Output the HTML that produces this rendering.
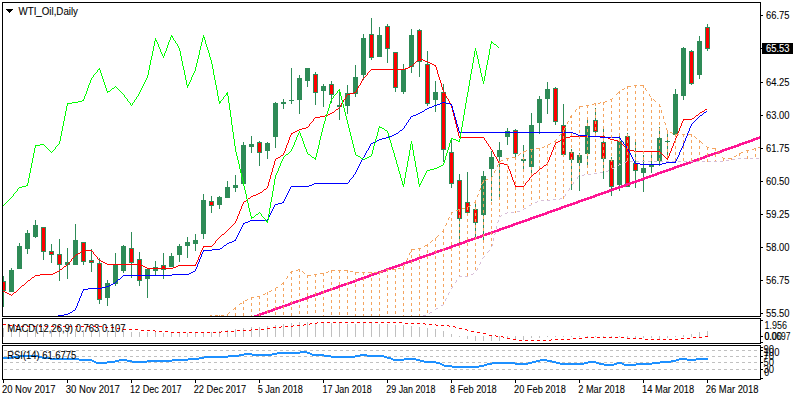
<!DOCTYPE html>
<html><head><meta charset="utf-8"><title>WTI_Oil,Daily</title>
<style>html,body{margin:0;padding:0;background:#fff;overflow:hidden}svg{display:block}</style></head>
<body>
<svg width="800" height="400" viewBox="0 0 800 400">
<rect x="0" y="0" width="800" height="400" fill="#fff"/>
<defs><clipPath id="cm"><rect x="3" y="3" width="757" height="313"/></clipPath><clipPath id="cr"><rect x="3" y="346" width="757" height="33"/></clipPath><clipPath id="cd"><rect x="3" y="319" width="757" height="24"/></clipPath></defs>
<g shape-rendering="crispEdges">
<g clip-path="url(#cm)">
<rect x="3" y="276" width="1" height="31" fill="#2E8B57"/>
<rect x="1" y="281" width="5" height="10" fill="#2E8B57"/>
<rect x="2" y="282" width="3" height="8" fill="#FF0000"/>
<rect x="11" y="268" width="1" height="24" fill="#2E8B57"/>
<rect x="9" y="270" width="5" height="22" fill="#2E8B57"/>
<rect x="19" y="243" width="1" height="26" fill="#2E8B57"/>
<rect x="17" y="246" width="5" height="23" fill="#2E8B57"/>
<rect x="27" y="230" width="1" height="24" fill="#2E8B57"/>
<rect x="25" y="233" width="5" height="16" fill="#2E8B57"/>
<rect x="35" y="220" width="1" height="18" fill="#2E8B57"/>
<rect x="33" y="225" width="5" height="12" fill="#2E8B57"/>
<rect x="43" y="227" width="1" height="33" fill="#2E8B57"/>
<rect x="41" y="227" width="5" height="25" fill="#2E8B57"/>
<rect x="42" y="228" width="3" height="23" fill="#FF0000"/>
<rect x="51" y="244" width="1" height="19" fill="#2E8B57"/>
<rect x="49" y="251" width="5" height="4" fill="#2E8B57"/>
<rect x="50" y="252" width="3" height="2" fill="#FF0000"/>
<rect x="59" y="239" width="1" height="42" fill="#2E8B57"/>
<rect x="57" y="254" width="5" height="11" fill="#2E8B57"/>
<rect x="58" y="255" width="3" height="9" fill="#FF0000"/>
<rect x="67" y="248" width="1" height="31" fill="#2E8B57"/>
<rect x="65" y="262" width="5" height="3" fill="#2E8B57"/>
<rect x="75" y="224" width="1" height="41" fill="#2E8B57"/>
<rect x="73" y="240" width="5" height="25" fill="#2E8B57"/>
<rect x="83" y="242" width="1" height="23" fill="#2E8B57"/>
<rect x="81" y="242" width="5" height="20" fill="#2E8B57"/>
<rect x="82" y="243" width="3" height="18" fill="#FF0000"/>
<rect x="91" y="249" width="1" height="23" fill="#2E8B57"/>
<rect x="89" y="260" width="5" height="3" fill="#2E8B57"/>
<rect x="90" y="261" width="3" height="1" fill="#FF0000"/>
<rect x="99" y="258" width="1" height="46" fill="#2E8B57"/>
<rect x="97" y="263" width="5" height="37" fill="#2E8B57"/>
<rect x="98" y="264" width="3" height="35" fill="#FF0000"/>
<rect x="107" y="280" width="1" height="26" fill="#2E8B57"/>
<rect x="105" y="283" width="5" height="15" fill="#2E8B57"/>
<rect x="115" y="253" width="1" height="33" fill="#2E8B57"/>
<rect x="113" y="265" width="5" height="19" fill="#2E8B57"/>
<rect x="123" y="245" width="1" height="28" fill="#2E8B57"/>
<rect x="121" y="246" width="5" height="25" fill="#2E8B57"/>
<rect x="131" y="232" width="1" height="46" fill="#2E8B57"/>
<rect x="129" y="248" width="5" height="15" fill="#2E8B57"/>
<rect x="130" y="249" width="3" height="13" fill="#FF0000"/>
<rect x="139" y="252" width="1" height="34" fill="#2E8B57"/>
<rect x="137" y="259" width="5" height="22" fill="#2E8B57"/>
<rect x="138" y="260" width="3" height="20" fill="#FF0000"/>
<rect x="147" y="269" width="1" height="29" fill="#2E8B57"/>
<rect x="145" y="269" width="5" height="10" fill="#2E8B57"/>
<rect x="155" y="261" width="1" height="14" fill="#2E8B57"/>
<rect x="153" y="267" width="5" height="4" fill="#2E8B57"/>
<rect x="163" y="253" width="1" height="26" fill="#2E8B57"/>
<rect x="161" y="265" width="5" height="5" fill="#2E8B57"/>
<rect x="162" y="266" width="3" height="3" fill="#FF0000"/>
<rect x="171" y="253" width="1" height="14" fill="#2E8B57"/>
<rect x="169" y="256" width="5" height="11" fill="#2E8B57"/>
<rect x="179" y="244" width="1" height="18" fill="#2E8B57"/>
<rect x="177" y="246" width="5" height="9" fill="#2E8B57"/>
<rect x="187" y="237" width="1" height="21" fill="#2E8B57"/>
<rect x="185" y="242" width="5" height="4" fill="#2E8B57"/>
<rect x="195" y="234" width="1" height="17" fill="#2E8B57"/>
<rect x="193" y="240" width="5" height="4" fill="#2E8B57"/>
<rect x="203" y="194" width="1" height="45" fill="#2E8B57"/>
<rect x="201" y="200" width="5" height="34" fill="#2E8B57"/>
<rect x="211" y="196" width="1" height="17" fill="#2E8B57"/>
<rect x="209" y="201" width="5" height="5" fill="#2E8B57"/>
<rect x="210" y="202" width="3" height="3" fill="#FF0000"/>
<rect x="219" y="196" width="1" height="13" fill="#2E8B57"/>
<rect x="217" y="197" width="5" height="8" fill="#2E8B57"/>
<rect x="227" y="181" width="1" height="17" fill="#2E8B57"/>
<rect x="225" y="187" width="5" height="11" fill="#2E8B57"/>
<rect x="235" y="175" width="1" height="17" fill="#2E8B57"/>
<rect x="233" y="185" width="5" height="3" fill="#2E8B57"/>
<rect x="243" y="142" width="1" height="42" fill="#2E8B57"/>
<rect x="241" y="145" width="5" height="39" fill="#2E8B57"/>
<rect x="251" y="136" width="1" height="17" fill="#2E8B57"/>
<rect x="249" y="144" width="5" height="3" fill="#2E8B57"/>
<rect x="259" y="141" width="1" height="25" fill="#2E8B57"/>
<rect x="257" y="142" width="5" height="11" fill="#2E8B57"/>
<rect x="258" y="143" width="3" height="9" fill="#FF0000"/>
<rect x="267" y="142" width="1" height="17" fill="#2E8B57"/>
<rect x="265" y="143" width="5" height="8" fill="#2E8B57"/>
<rect x="275" y="102" width="1" height="46" fill="#2E8B57"/>
<rect x="273" y="103" width="5" height="34" fill="#2E8B57"/>
<rect x="283" y="99" width="1" height="10" fill="#2E8B57"/>
<rect x="281" y="102" width="5" height="2" fill="#2E8B57"/>
<rect x="291" y="68" width="1" height="36" fill="#2E8B57"/>
<rect x="289" y="100" width="5" height="1" fill="#2E8B57"/>
<rect x="299" y="75" width="1" height="39" fill="#2E8B57"/>
<rect x="297" y="78" width="5" height="22" fill="#2E8B57"/>
<rect x="307" y="68" width="1" height="19" fill="#2E8B57"/>
<rect x="305" y="68" width="5" height="13" fill="#2E8B57"/>
<rect x="315" y="72" width="1" height="33" fill="#2E8B57"/>
<rect x="313" y="74" width="5" height="19" fill="#2E8B57"/>
<rect x="314" y="75" width="3" height="17" fill="#FF0000"/>
<rect x="323" y="84" width="1" height="23" fill="#2E8B57"/>
<rect x="321" y="86" width="5" height="5" fill="#2E8B57"/>
<rect x="331" y="81" width="1" height="22" fill="#2E8B57"/>
<rect x="329" y="84" width="5" height="11" fill="#2E8B57"/>
<rect x="330" y="85" width="3" height="9" fill="#FF0000"/>
<rect x="339" y="89" width="1" height="31" fill="#2E8B57"/>
<rect x="337" y="105" width="5" height="2" fill="#2E8B57"/>
<rect x="347" y="85" width="1" height="29" fill="#2E8B57"/>
<rect x="345" y="93" width="5" height="13" fill="#2E8B57"/>
<rect x="355" y="65" width="1" height="32" fill="#2E8B57"/>
<rect x="353" y="77" width="5" height="17" fill="#2E8B57"/>
<rect x="363" y="34" width="1" height="46" fill="#2E8B57"/>
<rect x="361" y="38" width="5" height="37" fill="#2E8B57"/>
<rect x="371" y="18" width="1" height="42" fill="#2E8B57"/>
<rect x="369" y="34" width="5" height="24" fill="#2E8B57"/>
<rect x="370" y="35" width="3" height="22" fill="#FF0000"/>
<rect x="379" y="27" width="1" height="30" fill="#2E8B57"/>
<rect x="377" y="35" width="5" height="22" fill="#2E8B57"/>
<rect x="387" y="24" width="1" height="39" fill="#2E8B57"/>
<rect x="385" y="26" width="5" height="23" fill="#2E8B57"/>
<rect x="386" y="27" width="3" height="21" fill="#FF0000"/>
<rect x="395" y="52" width="1" height="40" fill="#2E8B57"/>
<rect x="393" y="52" width="5" height="36" fill="#2E8B57"/>
<rect x="394" y="53" width="3" height="34" fill="#FF0000"/>
<rect x="403" y="64" width="1" height="30" fill="#2E8B57"/>
<rect x="401" y="69" width="5" height="23" fill="#2E8B57"/>
<rect x="411" y="29" width="1" height="44" fill="#2E8B57"/>
<rect x="409" y="35" width="5" height="32" fill="#2E8B57"/>
<rect x="419" y="29" width="1" height="48" fill="#2E8B57"/>
<rect x="417" y="30" width="5" height="32" fill="#2E8B57"/>
<rect x="418" y="31" width="3" height="30" fill="#FF0000"/>
<rect x="427" y="51" width="1" height="55" fill="#2E8B57"/>
<rect x="425" y="64" width="5" height="40" fill="#2E8B57"/>
<rect x="426" y="65" width="3" height="38" fill="#FF0000"/>
<rect x="435" y="81" width="1" height="31" fill="#2E8B57"/>
<rect x="433" y="92" width="5" height="8" fill="#2E8B57"/>
<rect x="443" y="84" width="1" height="78" fill="#2E8B57"/>
<rect x="441" y="92" width="5" height="58" fill="#2E8B57"/>
<rect x="442" y="93" width="3" height="56" fill="#FF0000"/>
<rect x="451" y="140" width="1" height="48" fill="#2E8B57"/>
<rect x="449" y="152" width="5" height="32" fill="#2E8B57"/>
<rect x="450" y="153" width="3" height="30" fill="#FF0000"/>
<rect x="459" y="174" width="1" height="70" fill="#2E8B57"/>
<rect x="457" y="180" width="5" height="39" fill="#2E8B57"/>
<rect x="458" y="181" width="3" height="37" fill="#FF0000"/>
<rect x="467" y="172" width="1" height="41" fill="#2E8B57"/>
<rect x="465" y="202" width="5" height="11" fill="#2E8B57"/>
<rect x="466" y="203" width="3" height="9" fill="#FF0000"/>
<rect x="475" y="201" width="1" height="36" fill="#2E8B57"/>
<rect x="473" y="209" width="5" height="14" fill="#2E8B57"/>
<rect x="474" y="210" width="3" height="12" fill="#FF0000"/>
<rect x="483" y="171" width="1" height="72" fill="#2E8B57"/>
<rect x="481" y="176" width="5" height="39" fill="#2E8B57"/>
<rect x="491" y="151" width="1" height="50" fill="#2E8B57"/>
<rect x="489" y="157" width="5" height="12" fill="#2E8B57"/>
<rect x="499" y="142" width="1" height="55" fill="#2E8B57"/>
<rect x="497" y="150" width="5" height="7" fill="#2E8B57"/>
<rect x="507" y="128" width="1" height="17" fill="#2E8B57"/>
<rect x="505" y="131" width="5" height="6" fill="#2E8B57"/>
<rect x="515" y="129" width="1" height="28" fill="#2E8B57"/>
<rect x="513" y="130" width="5" height="24" fill="#2E8B57"/>
<rect x="514" y="131" width="3" height="22" fill="#FF0000"/>
<rect x="523" y="145" width="1" height="25" fill="#2E8B57"/>
<rect x="521" y="159" width="5" height="2" fill="#2E8B57"/>
<rect x="531" y="113" width="1" height="62" fill="#2E8B57"/>
<rect x="529" y="125" width="5" height="42" fill="#2E8B57"/>
<rect x="539" y="96" width="1" height="38" fill="#2E8B57"/>
<rect x="537" y="99" width="5" height="24" fill="#2E8B57"/>
<rect x="547" y="82" width="1" height="32" fill="#2E8B57"/>
<rect x="545" y="89" width="5" height="10" fill="#2E8B57"/>
<rect x="555" y="87" width="1" height="38" fill="#2E8B57"/>
<rect x="553" y="88" width="5" height="34" fill="#2E8B57"/>
<rect x="554" y="89" width="3" height="32" fill="#FF0000"/>
<rect x="563" y="104" width="1" height="52" fill="#2E8B57"/>
<rect x="561" y="125" width="5" height="30" fill="#2E8B57"/>
<rect x="562" y="126" width="3" height="28" fill="#FF0000"/>
<rect x="571" y="149" width="1" height="41" fill="#2E8B57"/>
<rect x="569" y="152" width="5" height="8" fill="#2E8B57"/>
<rect x="570" y="153" width="3" height="6" fill="#FF0000"/>
<rect x="579" y="153" width="1" height="38" fill="#2E8B57"/>
<rect x="577" y="155" width="5" height="8" fill="#2E8B57"/>
<rect x="587" y="120" width="1" height="48" fill="#2E8B57"/>
<rect x="585" y="126" width="5" height="28" fill="#2E8B57"/>
<rect x="595" y="108" width="1" height="25" fill="#2E8B57"/>
<rect x="593" y="120" width="5" height="12" fill="#2E8B57"/>
<rect x="594" y="121" width="3" height="10" fill="#FF0000"/>
<rect x="603" y="128" width="1" height="51" fill="#2E8B57"/>
<rect x="601" y="142" width="5" height="17" fill="#2E8B57"/>
<rect x="602" y="143" width="3" height="15" fill="#FF0000"/>
<rect x="611" y="157" width="1" height="39" fill="#2E8B57"/>
<rect x="609" y="160" width="5" height="27" fill="#2E8B57"/>
<rect x="610" y="161" width="3" height="25" fill="#FF0000"/>
<rect x="619" y="136" width="1" height="55" fill="#2E8B57"/>
<rect x="617" y="141" width="5" height="44" fill="#2E8B57"/>
<rect x="627" y="133" width="1" height="54" fill="#2E8B57"/>
<rect x="625" y="136" width="5" height="51" fill="#2E8B57"/>
<rect x="626" y="137" width="3" height="49" fill="#FF0000"/>
<rect x="635" y="142" width="1" height="46" fill="#2E8B57"/>
<rect x="633" y="163" width="5" height="8" fill="#2E8B57"/>
<rect x="634" y="164" width="3" height="6" fill="#FF0000"/>
<rect x="643" y="155" width="1" height="37" fill="#2E8B57"/>
<rect x="641" y="168" width="5" height="5" fill="#2E8B57"/>
<rect x="651" y="154" width="1" height="19" fill="#2E8B57"/>
<rect x="649" y="164" width="5" height="3" fill="#2E8B57"/>
<rect x="659" y="127" width="1" height="39" fill="#2E8B57"/>
<rect x="657" y="138" width="5" height="23" fill="#2E8B57"/>
<rect x="667" y="132" width="1" height="28" fill="#2E8B57"/>
<rect x="665" y="141" width="5" height="1" fill="#2E8B57"/>
<rect x="675" y="89" width="1" height="46" fill="#2E8B57"/>
<rect x="673" y="94" width="5" height="41" fill="#2E8B57"/>
<rect x="683" y="47" width="1" height="53" fill="#2E8B57"/>
<rect x="681" y="48" width="5" height="48" fill="#2E8B57"/>
<rect x="691" y="50" width="1" height="35" fill="#2E8B57"/>
<rect x="689" y="51" width="5" height="33" fill="#2E8B57"/>
<rect x="690" y="52" width="3" height="31" fill="#FF0000"/>
<rect x="699" y="36" width="1" height="43" fill="#2E8B57"/>
<rect x="697" y="41" width="5" height="34" fill="#2E8B57"/>
<rect x="707" y="24" width="1" height="27" fill="#2E8B57"/>
<rect x="705" y="27" width="5" height="22" fill="#2E8B57"/>
<rect x="706" y="28" width="3" height="20" fill="#FF0000"/>
</g>
<path d="M759 136h1v1h-1zM756 137h4v1h-4zM753 138h7v1h-7zM751 139h7v1h-7zM748 140h7v1h-7zM745 141h8v1h-8zM742 142h8v1h-8zM739 143h8v1h-8zM737 144h7v1h-7zM734 145h7v1h-7zM731 146h8v1h-8zM728 147h8v1h-8zM725 148h8v1h-8zM722 149h8v1h-8zM720 150h7v1h-7zM717 151h7v1h-7zM714 152h8v1h-8zM711 153h8v1h-8zM708 154h8v1h-8zM705 155h8v1h-8zM703 156h7v1h-7zM700 157h7v1h-7zM697 158h8v1h-8zM694 159h8v1h-8zM691 160h8v1h-8zM689 161h7v1h-7zM686 162h7v1h-7zM683 163h8v1h-8zM680 164h8v1h-8zM677 165h8v1h-8zM674 166h8v1h-8zM672 167h7v1h-7zM669 168h7v1h-7zM666 169h8v1h-8zM663 170h8v1h-8zM660 171h8v1h-8zM657 172h8v1h-8zM655 173h7v1h-7zM652 174h7v1h-7zM649 175h8v1h-8zM646 176h8v1h-8zM643 177h8v1h-8zM641 178h7v1h-7zM638 179h7v1h-7zM635 180h8v1h-8zM632 181h8v1h-8zM629 182h8v1h-8zM626 183h8v1h-8zM624 184h7v1h-7zM621 185h7v1h-7zM618 186h8v1h-8zM615 187h8v1h-8zM612 188h8v1h-8zM609 189h8v1h-8zM607 190h7v1h-7zM604 191h7v1h-7zM601 192h8v1h-8zM598 193h8v1h-8zM595 194h8v1h-8zM593 195h7v1h-7zM590 196h7v1h-7zM587 197h8v1h-8zM584 198h8v1h-8zM581 199h8v1h-8zM578 200h8v1h-8zM576 201h7v1h-7zM573 202h7v1h-7zM570 203h8v1h-8zM567 204h8v1h-8zM564 205h8v1h-8zM561 206h8v1h-8zM559 207h7v1h-7zM556 208h7v1h-7zM553 209h8v1h-8zM550 210h8v1h-8zM547 211h8v1h-8zM545 212h7v1h-7zM542 213h7v1h-7zM539 214h8v1h-8zM536 215h8v1h-8zM533 216h8v1h-8zM530 217h8v1h-8zM528 218h7v1h-7zM525 219h7v1h-7zM522 220h8v1h-8zM519 221h8v1h-8zM516 222h8v1h-8zM513 223h8v1h-8zM511 224h7v1h-7zM508 225h7v1h-7zM505 226h8v1h-8zM502 227h8v1h-8zM499 228h8v1h-8zM497 229h7v1h-7zM494 230h7v1h-7zM491 231h8v1h-8zM488 232h8v1h-8zM485 233h8v1h-8zM482 234h8v1h-8zM480 235h7v1h-7zM477 236h7v1h-7zM474 237h8v1h-8zM471 238h8v1h-8zM468 239h8v1h-8zM465 240h8v1h-8zM463 241h7v1h-7zM460 242h7v1h-7zM457 243h8v1h-8zM454 244h8v1h-8zM451 245h8v1h-8zM449 246h7v1h-7zM446 247h7v1h-7zM443 248h8v1h-8zM440 249h8v1h-8zM437 250h8v1h-8zM434 251h8v1h-8zM432 252h7v1h-7zM429 253h7v1h-7zM426 254h8v1h-8zM423 255h8v1h-8zM420 256h8v1h-8zM417 257h8v1h-8zM415 258h7v1h-7zM412 259h7v1h-7zM409 260h8v1h-8zM406 261h8v1h-8zM403 262h8v1h-8zM401 263h7v1h-7zM398 264h7v1h-7zM395 265h8v1h-8zM392 266h8v1h-8zM389 267h8v1h-8zM386 268h8v1h-8zM384 269h7v1h-7zM381 270h7v1h-7zM378 271h8v1h-8zM375 272h8v1h-8zM372 273h8v1h-8zM369 274h8v1h-8zM367 275h7v1h-7zM364 276h7v1h-7zM361 277h8v1h-8zM358 278h8v1h-8zM355 279h8v1h-8zM353 280h7v1h-7zM350 281h7v1h-7zM347 282h8v1h-8zM344 283h8v1h-8zM341 284h8v1h-8zM338 285h8v1h-8zM336 286h7v1h-7zM333 287h7v1h-7zM330 288h8v1h-8zM327 289h8v1h-8zM324 290h8v1h-8zM321 291h8v1h-8zM319 292h7v1h-7zM316 293h7v1h-7zM313 294h8v1h-8zM310 295h8v1h-8zM307 296h8v1h-8zM305 297h7v1h-7zM302 298h7v1h-7zM299 299h8v1h-8zM296 300h8v1h-8zM293 301h8v1h-8zM290 302h8v1h-8zM288 303h7v1h-7zM285 304h7v1h-7zM282 305h8v1h-8zM279 306h8v1h-8zM276 307h8v1h-8zM273 308h8v1h-8zM271 309h7v1h-7zM268 310h7v1h-7zM265 311h8v1h-8zM262 312h8v1h-8zM259 313h8v1h-8zM257 314h7v1h-7zM254 315h7v1h-7z" fill="#FF1493"/>
<path d="M419 58h2v1h-2zM418 59h1v1h-1zM421 59h2v1h-2zM417 60h1v1h-1zM423 60h2v1h-2zM416 61h1v1h-1zM425 61h3v1h-3zM415 62h1v1h-1zM428 62h2v1h-2zM414 63h1v1h-1zM430 63h2v1h-2zM413 64h1v1h-1zM432 64h2v1h-2zM412 65h1v1h-1zM434 65h2v1h-2zM410 66h2v1h-2zM435 66h1v1h-1zM408 67h2v1h-2zM436 67h1v3h-1zM405 68h3v1h-3zM371 69h34v1h-34zM370 70h1v1h-1zM437 70h1v4h-1zM369 71h1v1h-1zM368 72h1v1h-1zM367 73h1v2h-1zM438 74h1v3h-1zM366 75h1v1h-1zM365 76h1v1h-1zM364 77h1v1h-1zM439 77h1v3h-1zM363 78h1v1h-1zM362 79h1v2h-1zM440 80h1v3h-1zM361 81h1v2h-1zM360 83h1v2h-1zM441 83h1v4h-1zM359 85h1v1h-1zM358 86h1v2h-1zM442 87h1v3h-1zM357 88h1v2h-1zM356 90h1v2h-1zM443 90h1v2h-1zM354 92h2v1h-2zM444 92h1v2h-1zM350 93h4v1h-4zM347 94h3v1h-3zM445 94h1v2h-1zM346 95h1v2h-1zM446 96h1v2h-1zM345 97h1v2h-1zM447 98h1v1h-1zM344 99h1v1h-1zM448 99h1v2h-1zM343 100h1v2h-1zM449 101h1v2h-1zM342 102h1v1h-1zM341 103h1v2h-1zM450 103h1v2h-1zM340 105h1v2h-1zM451 105h1v3h-1zM339 107h1v1h-1zM338 108h1v1h-1zM452 108h1v4h-1zM336 109h2v1h-2zM705 109h2v1h-2zM335 110h1v1h-1zM704 110h1v1h-1zM334 111h1v1h-1zM702 111h2v1h-2zM332 112h2v1h-2zM453 112h1v4h-1zM700 112h2v1h-2zM330 113h2v1h-2zM699 113h1v1h-1zM328 114h2v1h-2zM698 114h1v1h-1zM325 115h3v1h-3zM696 115h2v1h-2zM320 116h5v1h-5zM454 116h1v4h-1zM695 116h1v1h-1zM315 117h5v1h-5zM694 117h1v1h-1zM314 118h1v1h-1zM692 118h2v1h-2zM313 119h1v2h-1zM683 119h9v1h-9zM455 120h1v4h-1zM683 120h1v1h-1zM312 121h1v1h-1zM682 121h1v2h-1zM311 122h1v1h-1zM310 123h1v1h-1zM681 123h1v3h-1zM309 124h1v2h-1zM456 124h1v4h-1zM308 126h1v1h-1zM680 126h1v2h-1zM306 127h2v1h-2zM302 128h4v1h-4zM457 128h1v4h-1zM679 128h1v3h-1zM299 129h3v1h-3zM297 130h2v1h-2zM295 131h2v1h-2zM678 131h1v2h-1zM293 132h2v1h-2zM458 132h1v4h-1zM291 133h2v1h-2zM677 133h1v3h-1zM291 134h1v1h-1zM290 135h1v2h-1zM459 136h1v1h-1zM570 136h35v1h-35zM676 136h1v2h-1zM289 137h1v3h-1zM459 137h25v1h-25zM566 137h4v1h-4zM605 137h3v1h-3zM484 138h1v2h-1zM563 138h3v1h-3zM608 138h2v1h-2zM675 138h1v3h-1zM561 139h2v1h-2zM610 139h4v1h-4zM288 140h1v3h-1zM485 140h1v1h-1zM560 140h1v1h-1zM614 140h4v1h-4zM486 141h1v2h-1zM558 141h2v1h-2zM618 141h2v1h-2zM674 141h1v2h-1zM556 142h2v1h-2zM620 142h1v1h-1zM287 143h1v2h-1zM487 143h1v1h-1zM555 143h1v2h-1zM621 143h1v1h-1zM673 143h1v3h-1zM488 144h1v2h-1zM622 144h1v1h-1zM286 145h1v3h-1zM554 145h1v2h-1zM623 145h1v1h-1zM489 146h1v1h-1zM624 146h1v1h-1zM672 146h1v2h-1zM490 147h1v2h-1zM553 147h1v3h-1zM625 147h1v1h-1zM285 148h1v3h-1zM626 148h1v1h-1zM671 148h1v3h-1zM491 149h1v1h-1zM627 149h3v1h-3zM492 150h1v2h-1zM552 150h1v2h-1zM630 150h4v1h-4zM284 151h1v2h-1zM634 151h26v1h-26zM670 151h1v2h-1zM493 152h1v2h-1zM551 152h1v3h-1zM660 152h1v1h-1zM283 153h1v2h-1zM661 153h1v1h-1zM669 153h1v3h-1zM494 154h1v2h-1zM662 154h1v1h-1zM281 155h2v1h-2zM550 155h1v2h-1zM663 155h1v1h-1zM280 156h1v1h-1zM495 156h1v1h-1zM664 156h1v1h-1zM668 156h1v2h-1zM278 157h2v1h-2zM496 157h1v2h-1zM549 157h1v3h-1zM665 157h1v1h-1zM276 158h2v1h-2zM666 158h2v1h-2zM275 159h1v2h-1zM497 159h1v2h-1zM667 159h1v1h-1zM548 160h1v2h-1zM274 161h1v4h-1zM498 161h1v2h-1zM547 162h1v2h-1zM499 163h5v1h-5zM504 164h4v1h-4zM546 164h1v1h-1zM273 165h1v3h-1zM507 165h1v1h-1zM544 165h2v1h-2zM508 166h1v3h-1zM543 166h1v1h-1zM542 167h1v1h-1zM272 168h1v4h-1zM540 168h2v1h-2zM509 169h1v2h-1zM539 169h1v1h-1zM538 170h1v1h-1zM510 171h1v3h-1zM537 171h1v1h-1zM271 172h1v3h-1zM536 172h1v1h-1zM534 173h2v1h-2zM511 174h1v3h-1zM533 174h1v1h-1zM270 175h1v4h-1zM532 175h1v1h-1zM531 176h1v1h-1zM512 177h1v3h-1zM530 177h1v1h-1zM529 178h1v2h-1zM269 179h1v3h-1zM513 180h1v2h-1zM528 180h1v1h-1zM527 181h1v1h-1zM268 182h1v4h-1zM514 182h1v3h-1zM526 182h1v1h-1zM525 183h1v2h-1zM515 185h1v1h-1zM524 185h1v1h-1zM267 186h1v2h-1zM515 186h9v1h-9zM266 188h1v1h-1zM264 189h2v1h-2zM263 190h1v1h-1zM262 191h1v1h-1zM260 192h2v1h-2zM258 193h2v1h-2zM256 194h2v1h-2zM253 195h3v1h-3zM251 196h2v1h-2zM250 197h1v1h-1zM248 198h2v1h-2zM247 199h1v1h-1zM246 200h1v1h-1zM244 201h2v1h-2zM243 202h1v2h-1zM242 204h1v2h-1zM241 206h1v3h-1zM240 209h1v2h-1zM239 211h1v3h-1zM238 214h1v2h-1zM237 216h1v3h-1zM236 219h1v2h-1zM235 221h1v2h-1zM234 223h1v1h-1zM233 224h1v1h-1zM232 225h1v1h-1zM231 226h1v1h-1zM230 227h1v1h-1zM229 228h1v1h-1zM228 229h1v1h-1zM227 230h1v1h-1zM226 231h1v1h-1zM225 232h1v1h-1zM224 233h1v1h-1zM222 234h2v1h-2zM221 235h1v1h-1zM220 236h1v1h-1zM219 237h1v1h-1zM218 238h1v1h-1zM217 239h1v1h-1zM216 240h1v1h-1zM215 241h1v2h-1zM214 243h1v1h-1zM213 244h1v1h-1zM212 245h1v1h-1zM203 246h9v1h-9zM203 247h1v1h-1zM202 248h1v2h-1zM83 250h9v1h-9zM201 250h1v2h-1zM81 251h2v1h-2zM92 251h1v1h-1zM80 252h1v1h-1zM93 252h1v2h-1zM200 252h1v3h-1zM78 253h2v1h-2zM76 254h2v1h-2zM94 254h1v1h-1zM75 255h1v1h-1zM95 255h1v1h-1zM199 255h1v2h-1zM74 256h1v1h-1zM96 256h1v1h-1zM73 257h1v1h-1zM97 257h1v2h-1zM198 257h1v3h-1zM72 258h1v1h-1zM71 259h1v2h-1zM98 259h1v1h-1zM99 260h2v1h-2zM197 260h1v2h-1zM70 261h1v1h-1zM101 261h2v1h-2zM69 262h1v1h-1zM103 262h2v1h-2zM196 262h1v2h-1zM68 263h1v1h-1zM105 263h2v1h-2zM67 264h1v1h-1zM107 264h34v1h-34zM195 264h1v1h-1zM66 265h1v1h-1zM141 265h2v1h-2zM178 265h18v1h-18zM64 266h2v1h-2zM143 266h2v1h-2zM176 266h2v1h-2zM63 267h1v1h-1zM145 267h2v1h-2zM173 267h3v1h-3zM62 268h1v1h-1zM147 268h26v1h-26zM60 269h2v1h-2zM59 270h1v1h-1zM57 271h2v1h-2zM55 272h2v1h-2zM53 273h2v1h-2zM40 274h13v1h-13zM35 275h5v1h-5zM34 276h1v1h-1zM32 277h2v1h-2zM31 278h1v1h-1zM30 279h1v1h-1zM28 280h2v1h-2zM27 281h1v1h-1zM26 282h1v1h-1zM25 283h1v1h-1zM24 284h1v1h-1zM22 285h2v1h-2zM21 286h1v1h-1zM20 287h1v1h-1zM19 288h1v1h-1zM18 289h1v1h-1zM17 290h1v1h-1zM3 291h2v1h-2zM16 291h1v1h-1zM5 292h2v1h-2zM14 292h2v1h-2zM7 293h2v1h-2zM13 293h1v1h-1zM9 294h2v1h-2zM12 294h1v1h-1zM11 295h1v1h-1z" fill="#FF0000"/>
<path d="M442 102h4v1h-4zM440 103h2v1h-2zM446 103h4v1h-4zM437 104h3v1h-3zM450 104h2v1h-2zM434 105h3v1h-3zM451 105h1v1h-1zM432 106h2v1h-2zM452 106h1v4h-1zM429 107h3v1h-3zM427 108h2v1h-2zM425 109h2v1h-2zM424 110h1v1h-1zM453 110h1v3h-1zM422 111h2v1h-2zM706 111h1v1h-1zM420 112h2v1h-2zM704 112h2v1h-2zM418 113h2v1h-2zM454 113h1v4h-1zM703 113h1v1h-1zM416 114h2v1h-2zM702 114h1v1h-1zM413 115h3v1h-3zM700 115h2v1h-2zM411 116h2v1h-2zM699 116h1v1h-1zM410 117h1v2h-1zM455 117h1v3h-1zM698 117h1v1h-1zM697 118h1v1h-1zM409 119h1v1h-1zM696 119h1v1h-1zM408 120h1v2h-1zM456 120h1v4h-1zM695 120h1v1h-1zM694 121h1v1h-1zM407 122h1v1h-1zM693 122h1v1h-1zM406 123h1v2h-1zM692 123h1v1h-1zM457 124h1v3h-1zM691 124h1v2h-1zM405 125h1v1h-1zM404 126h1v2h-1zM690 126h1v2h-1zM458 127h1v4h-1zM403 128h1v1h-1zM689 128h1v3h-1zM402 129h1v1h-1zM400 130h2v1h-2zM399 131h1v1h-1zM459 131h1v1h-1zM688 131h1v2h-1zM398 132h1v1h-1zM459 132h114v1h-114zM396 133h2v1h-2zM573 133h3v1h-3zM687 133h1v3h-1zM394 134h2v1h-2zM576 134h2v1h-2zM392 135h2v1h-2zM578 135h10v1h-10zM389 136h3v1h-3zM588 136h12v1h-12zM686 136h1v2h-1zM386 137h3v1h-3zM600 137h20v1h-20zM382 138h4v1h-4zM620 138h1v2h-1zM685 138h1v3h-1zM379 139h3v1h-3zM377 140h2v1h-2zM621 140h1v1h-1zM375 141h2v1h-2zM622 141h1v1h-1zM684 141h1v2h-1zM373 142h2v1h-2zM623 142h1v2h-1zM371 143h2v1h-2zM683 143h1v3h-1zM370 144h1v2h-1zM624 144h1v1h-1zM625 145h1v1h-1zM369 146h1v2h-1zM626 146h1v2h-1zM682 146h1v2h-1zM368 148h1v2h-1zM627 148h1v1h-1zM681 148h1v2h-1zM628 149h1v2h-1zM367 150h1v1h-1zM680 150h1v2h-1zM366 151h1v2h-1zM629 151h1v2h-1zM679 152h1v3h-1zM365 153h1v2h-1zM630 153h1v2h-1zM364 155h1v2h-1zM631 155h1v2h-1zM678 155h1v2h-1zM363 157h1v1h-1zM632 157h1v2h-1zM677 157h1v2h-1zM362 158h1v2h-1zM633 159h1v2h-1zM676 159h1v2h-1zM361 160h1v2h-1zM634 161h1v2h-1zM675 161h1v1h-1zM360 162h1v2h-1zM666 162h10v1h-10zM635 163h5v1h-5zM662 163h4v1h-4zM359 164h1v2h-1zM640 164h22v1h-22zM358 166h1v2h-1zM357 168h1v2h-1zM356 170h1v2h-1zM355 172h1v2h-1zM354 174h1v1h-1zM353 175h1v2h-1zM352 177h1v1h-1zM351 178h1v1h-1zM350 179h1v1h-1zM349 180h1v2h-1zM348 182h1v1h-1zM314 183h34v1h-34zM312 184h2v1h-2zM309 185h3v1h-3zM291 186h18v1h-18zM290 187h1v2h-1zM289 189h1v2h-1zM288 191h1v2h-1zM287 193h1v2h-1zM286 195h1v2h-1zM285 197h1v2h-1zM284 199h1v2h-1zM283 201h1v1h-1zM282 202h2v1h-2zM278 203h4v1h-4zM275 204h3v1h-3zM274 205h1v2h-1zM273 207h1v2h-1zM272 209h1v2h-1zM271 211h1v2h-1zM270 213h1v2h-1zM269 215h1v2h-1zM268 217h1v2h-1zM267 219h1v1h-1zM250 220h18v1h-18zM248 221h2v1h-2zM245 222h3v1h-3zM243 223h2v1h-2zM243 224h1v1h-1zM242 225h1v2h-1zM241 227h1v2h-1zM240 229h1v2h-1zM239 231h1v2h-1zM238 233h1v2h-1zM237 235h1v2h-1zM236 237h1v2h-1zM235 239h1v1h-1zM234 240h2v1h-2zM232 241h2v1h-2zM229 242h3v1h-3zM227 243h2v1h-2zM226 244h1v1h-1zM224 245h2v1h-2zM223 246h1v1h-1zM222 247h1v1h-1zM220 248h2v1h-2zM212 249h8v1h-8zM203 250h9v1h-9zM203 251h1v1h-1zM202 252h1v2h-1zM201 254h1v3h-1zM200 257h1v2h-1zM199 259h1v3h-1zM198 262h1v2h-1zM197 264h1v3h-1zM196 267h1v2h-1zM195 269h1v2h-1zM193 271h2v1h-2zM191 272h2v1h-2zM189 273h2v1h-2zM172 274h17v1h-17zM123 275h49v1h-49zM122 276h1v1h-1zM121 277h1v1h-1zM120 278h1v1h-1zM118 279h2v1h-2zM117 280h1v1h-1zM116 281h1v1h-1zM115 282h1v1h-1zM113 283h2v1h-2zM111 284h2v1h-2zM109 285h2v1h-2zM106 286h3v1h-3zM102 287h4v1h-4zM88 288h14v1h-14zM83 289h5v1h-5zM83 290h1v1h-1zM82 291h1v2h-1zM81 293h1v3h-1zM80 296h1v2h-1zM79 298h1v3h-1zM78 301h1v2h-1zM77 303h1v3h-1zM76 306h1v2h-1zM75 308h1v2h-1zM73 310h2v1h-2zM72 311h1v1h-1zM70 312h2v1h-2zM68 313h2v1h-2zM64 314h4v1h-4zM58 315h6v1h-6z" fill="#0000FF"/>
<path d="M635 85h1v3h-1zM643 85h1v3h-1zM627 86h1v3h-1zM619 91h1v3h-1zM635 91h1v3h-1zM643 91h1v3h-1zM627 92h1v3h-1zM619 97h1v3h-1zM635 97h1v3h-1zM643 97h1v3h-1zM627 98h1v3h-1zM651 98h1v3h-1zM611 99h1v3h-1zM603 102h1v3h-1zM595 103h1v3h-1zM619 103h1v3h-1zM635 103h1v3h-1zM643 103h1v3h-1zM627 104h1v3h-1zM651 104h1v3h-1zM659 104h1v3h-1zM587 105h1v3h-1zM611 105h1v3h-1zM579 106h1v3h-1zM603 108h1v3h-1zM595 109h1v3h-1zM619 109h1v3h-1zM635 109h1v3h-1zM643 109h1v3h-1zM627 110h1v3h-1zM651 110h1v3h-1zM659 110h1v3h-1zM587 111h1v3h-1zM611 111h1v3h-1zM579 112h1v3h-1zM603 114h1v3h-1zM571 115h1v3h-1zM595 115h1v3h-1zM619 115h1v3h-1zM635 115h1v3h-1zM643 115h1v3h-1zM627 116h1v3h-1zM651 116h1v3h-1zM659 116h1v3h-1zM587 117h1v3h-1zM611 117h1v3h-1zM579 118h1v3h-1zM603 120h1v3h-1zM571 121h1v3h-1zM595 121h1v3h-1zM619 121h1v3h-1zM635 121h1v3h-1zM643 121h1v3h-1zM627 122h1v3h-1zM651 122h1v3h-1zM659 122h1v3h-1zM587 123h1v3h-1zM611 123h1v3h-1zM579 124h1v3h-1zM603 126h1v3h-1zM571 127h1v3h-1zM595 127h1v3h-1zM619 127h1v3h-1zM635 127h1v3h-1zM643 127h1v3h-1zM627 128h1v3h-1zM651 128h1v3h-1zM659 128h1v3h-1zM587 129h1v3h-1zM611 129h1v3h-1zM563 130h1v3h-1zM579 130h1v3h-1zM667 131h1v3h-1zM603 132h1v3h-1zM571 133h1v3h-1zM595 133h1v3h-1zM619 133h1v3h-1zM635 133h1v3h-1zM643 133h1v3h-1zM627 134h1v3h-1zM651 134h1v3h-1zM659 134h1v3h-1zM675 134h1v3h-1zM683 134h1v3h-1zM691 134h1v3h-1zM587 135h1v3h-1zM611 135h1v3h-1zM563 136h1v3h-1zM579 136h1v3h-1zM667 137h1v3h-1zM603 138h1v3h-1zM571 139h1v3h-1zM595 139h1v3h-1zM619 139h1v3h-1zM635 139h1v3h-1zM643 139h1v3h-1zM555 140h1v3h-1zM627 140h1v3h-1zM651 140h1v3h-1zM659 140h1v3h-1zM675 140h1v3h-1zM683 140h1v3h-1zM691 140h1v3h-1zM699 140h1v3h-1zM587 141h1v3h-1zM611 141h1v3h-1zM563 142h1v3h-1zM579 142h1v3h-1zM667 143h1v3h-1zM603 144h1v3h-1zM547 145h1v3h-1zM571 145h1v3h-1zM595 145h1v3h-1zM619 145h1v3h-1zM635 145h1v3h-1zM643 145h1v3h-1zM555 146h1v3h-1zM627 146h1v3h-1zM651 146h1v3h-1zM659 146h1v3h-1zM675 146h1v3h-1zM683 146h1v3h-1zM691 146h1v3h-1zM699 146h1v3h-1zM587 147h1v3h-1zM611 147h1v3h-1zM707 147h1v3h-1zM539 148h1v3h-1zM563 148h1v3h-1zM579 148h1v3h-1zM715 148h1v3h-1zM755 148h1v3h-1zM531 149h1v3h-1zM667 149h1v3h-1zM603 150h1v3h-1zM747 150h1v3h-1zM523 151h1v3h-1zM547 151h1v3h-1zM571 151h1v3h-1zM595 151h1v3h-1zM619 151h1v3h-1zM635 151h1v3h-1zM643 151h1v3h-1zM555 152h1v3h-1zM627 152h1v3h-1zM651 152h1v3h-1zM659 152h1v3h-1zM675 152h1v3h-1zM683 152h1v3h-1zM691 152h1v3h-1zM699 152h1v3h-1zM587 153h1v3h-1zM611 153h1v3h-1zM707 153h1v3h-1zM739 153h1v3h-1zM539 154h1v3h-1zM563 154h1v3h-1zM579 154h1v3h-1zM715 154h1v3h-1zM755 154h1v3h-1zM531 155h1v3h-1zM667 155h1v3h-1zM603 156h1v3h-1zM747 156h1v3h-1zM515 157h1v3h-1zM523 157h1v3h-1zM547 157h1v3h-1zM571 157h1v3h-1zM595 157h1v3h-1zM619 157h1v3h-1zM635 157h1v3h-1zM643 157h1v3h-1zM507 158h1v3h-1zM555 158h1v3h-1zM627 158h1v3h-1zM651 158h1v3h-1zM659 158h1v3h-1zM675 158h1v3h-1zM683 158h1v3h-1zM691 158h1v3h-1zM699 158h1v3h-1zM723 158h1v3h-1zM731 158h1v2h-1zM587 159h1v3h-1zM611 159h1v3h-1zM707 159h1v3h-1zM539 160h1v3h-1zM563 160h1v3h-1zM579 160h1v3h-1zM715 160h1v2h-1zM499 161h1v3h-1zM531 161h1v3h-1zM667 161h1v1h-1zM603 162h1v3h-1zM515 163h1v3h-1zM523 163h1v3h-1zM547 163h1v3h-1zM571 163h1v3h-1zM595 163h1v3h-1zM619 163h1v2h-1zM507 164h1v3h-1zM555 164h1v3h-1zM587 165h1v3h-1zM611 165h1v3h-1zM539 166h1v3h-1zM563 166h1v3h-1zM579 166h1v3h-1zM499 167h1v3h-1zM531 167h1v3h-1zM603 168h1v3h-1zM515 169h1v3h-1zM523 169h1v3h-1zM547 169h1v3h-1zM571 169h1v3h-1zM595 169h1v3h-1zM507 170h1v3h-1zM555 170h1v3h-1zM587 171h1v3h-1zM539 172h1v3h-1zM563 172h1v3h-1zM579 172h1v3h-1zM499 173h1v3h-1zM531 173h1v3h-1zM515 175h1v3h-1zM523 175h1v3h-1zM547 175h1v3h-1zM571 175h1v3h-1zM507 176h1v3h-1zM555 176h1v3h-1zM491 178h1v3h-1zM539 178h1v3h-1zM563 178h1v3h-1zM499 179h1v3h-1zM531 179h1v3h-1zM483 180h1v3h-1zM515 181h1v3h-1zM523 181h1v3h-1zM547 181h1v3h-1zM571 181h1v3h-1zM507 182h1v3h-1zM555 182h1v3h-1zM491 184h1v3h-1zM539 184h1v3h-1zM563 184h1v3h-1zM499 185h1v3h-1zM531 185h1v3h-1zM483 186h1v3h-1zM515 187h1v3h-1zM523 187h1v3h-1zM547 187h1v3h-1zM507 188h1v3h-1zM555 188h1v3h-1zM491 190h1v3h-1zM539 190h1v3h-1zM563 190h1v3h-1zM499 191h1v3h-1zM531 191h1v3h-1zM483 192h1v3h-1zM515 193h1v3h-1zM523 193h1v3h-1zM547 193h1v3h-1zM507 194h1v3h-1zM555 194h1v3h-1zM491 196h1v3h-1zM539 196h1v3h-1zM563 196h1v3h-1zM499 197h1v3h-1zM531 197h1v3h-1zM483 198h1v3h-1zM515 199h1v3h-1zM523 199h1v3h-1zM547 199h1v2h-1zM507 200h1v3h-1zM475 201h1v3h-1zM491 202h1v3h-1zM499 203h1v3h-1zM531 203h1v2h-1zM483 204h1v3h-1zM515 205h1v3h-1zM523 205h1v3h-1zM507 206h1v3h-1zM467 207h1v3h-1zM475 207h1v3h-1zM491 208h1v3h-1zM459 209h1v3h-1zM499 209h1v3h-1zM483 210h1v3h-1zM515 211h1v2h-1zM451 212h1v3h-1zM507 212h1v1h-1zM467 213h1v3h-1zM475 213h1v3h-1zM491 214h1v3h-1zM459 215h1v3h-1zM499 215h1v2h-1zM483 216h1v3h-1zM451 218h1v3h-1zM467 219h1v3h-1zM475 219h1v3h-1zM491 220h1v3h-1zM459 221h1v3h-1zM483 222h1v3h-1zM451 224h1v3h-1zM467 225h1v3h-1zM475 225h1v3h-1zM491 226h1v3h-1zM459 227h1v3h-1zM483 228h1v3h-1zM443 230h1v3h-1zM451 230h1v3h-1zM467 231h1v3h-1zM475 231h1v3h-1zM491 232h1v3h-1zM459 233h1v3h-1zM483 234h1v3h-1zM443 236h1v3h-1zM451 236h1v3h-1zM467 237h1v3h-1zM475 237h1v3h-1zM435 238h1v3h-1zM491 238h1v3h-1zM459 239h1v3h-1zM483 240h1v3h-1zM443 242h1v3h-1zM451 242h1v3h-1zM467 243h1v3h-1zM475 243h1v3h-1zM427 244h1v3h-1zM435 244h1v3h-1zM491 244h1v3h-1zM459 245h1v3h-1zM483 246h1v3h-1zM419 248h1v3h-1zM443 248h1v3h-1zM451 248h1v3h-1zM411 249h1v3h-1zM467 249h1v3h-1zM475 249h1v3h-1zM427 250h1v3h-1zM435 250h1v3h-1zM459 251h1v3h-1zM483 252h1v3h-1zM419 254h1v3h-1zM443 254h1v3h-1zM451 254h1v3h-1zM411 255h1v3h-1zM467 255h1v3h-1zM475 255h1v3h-1zM427 256h1v3h-1zM435 256h1v3h-1zM459 257h1v3h-1zM419 260h1v3h-1zM443 260h1v3h-1zM451 260h1v3h-1zM411 261h1v3h-1zM467 261h1v3h-1zM475 261h1v3h-1zM427 262h1v3h-1zM435 262h1v3h-1zM459 263h1v3h-1zM419 266h1v3h-1zM443 266h1v3h-1zM451 266h1v3h-1zM403 267h1v3h-1zM411 267h1v3h-1zM467 267h1v3h-1zM475 267h1v3h-1zM427 268h1v3h-1zM435 268h1v3h-1zM299 269h1v3h-1zM387 269h1v3h-1zM395 269h1v3h-1zM459 269h1v3h-1zM331 270h1v3h-1zM339 270h1v3h-1zM347 270h1v3h-1zM291 271h1v3h-1zM355 272h1v3h-1zM363 272h1v3h-1zM371 272h1v3h-1zM379 272h1v3h-1zM419 272h1v3h-1zM443 272h1v3h-1zM451 272h1v3h-1zM323 273h1v3h-1zM403 273h1v3h-1zM411 273h1v3h-1zM467 273h1v3h-1zM315 274h1v3h-1zM427 274h1v3h-1zM435 274h1v3h-1zM299 275h1v3h-1zM307 275h1v3h-1zM387 275h1v3h-1zM395 275h1v3h-1zM459 275h1v2h-1zM331 276h1v3h-1zM339 276h1v3h-1zM347 276h1v3h-1zM291 277h1v3h-1zM355 278h1v3h-1zM363 278h1v3h-1zM371 278h1v3h-1zM379 278h1v3h-1zM419 278h1v3h-1zM443 278h1v3h-1zM451 278h1v3h-1zM323 279h1v3h-1zM403 279h1v3h-1zM411 279h1v3h-1zM315 280h1v3h-1zM427 280h1v3h-1zM435 280h1v3h-1zM299 281h1v3h-1zM307 281h1v3h-1zM387 281h1v3h-1zM395 281h1v3h-1zM283 282h1v3h-1zM331 282h1v3h-1zM339 282h1v3h-1zM347 282h1v3h-1zM291 283h1v3h-1zM355 284h1v3h-1zM363 284h1v3h-1zM371 284h1v3h-1zM379 284h1v3h-1zM419 284h1v3h-1zM443 284h1v3h-1zM451 284h1v3h-1zM323 285h1v3h-1zM403 285h1v3h-1zM411 285h1v3h-1zM315 286h1v3h-1zM427 286h1v3h-1zM435 286h1v3h-1zM299 287h1v3h-1zM307 287h1v3h-1zM387 287h1v3h-1zM395 287h1v3h-1zM275 288h1v3h-1zM283 288h1v3h-1zM331 288h1v3h-1zM339 288h1v3h-1zM347 288h1v3h-1zM291 289h1v3h-1zM355 290h1v3h-1zM363 290h1v3h-1zM371 290h1v3h-1zM379 290h1v3h-1zM419 290h1v3h-1zM443 290h1v3h-1zM323 291h1v3h-1zM403 291h1v3h-1zM411 291h1v3h-1zM267 292h1v3h-1zM315 292h1v3h-1zM427 292h1v3h-1zM435 292h1v3h-1zM299 293h1v3h-1zM307 293h1v3h-1zM387 293h1v3h-1zM395 293h1v3h-1zM275 294h1v3h-1zM283 294h1v3h-1zM331 294h1v3h-1zM339 294h1v3h-1zM347 294h1v3h-1zM291 295h1v3h-1zM259 296h1v3h-1zM355 296h1v3h-1zM363 296h1v3h-1zM371 296h1v3h-1zM379 296h1v3h-1zM419 296h1v3h-1zM443 296h1v3h-1zM251 297h1v3h-1zM323 297h1v3h-1zM403 297h1v3h-1zM411 297h1v3h-1zM267 298h1v3h-1zM315 298h1v3h-1zM427 298h1v3h-1zM435 298h1v3h-1zM299 299h1v3h-1zM307 299h1v3h-1zM387 299h1v3h-1zM395 299h1v3h-1zM275 300h1v3h-1zM283 300h1v3h-1zM331 300h1v3h-1zM339 300h1v3h-1zM347 300h1v3h-1zM243 301h1v3h-1zM291 301h1v3h-1zM259 302h1v3h-1zM355 302h1v3h-1zM363 302h1v3h-1zM371 302h1v3h-1zM379 302h1v3h-1zM419 302h1v3h-1zM443 302h1v3h-1zM251 303h1v3h-1zM323 303h1v3h-1zM403 303h1v3h-1zM411 303h1v3h-1zM267 304h1v3h-1zM315 304h1v3h-1zM427 304h1v3h-1zM435 304h1v3h-1zM299 305h1v3h-1zM307 305h1v3h-1zM387 305h1v3h-1zM395 305h1v3h-1zM275 306h1v3h-1zM283 306h1v3h-1zM331 306h1v3h-1zM339 306h1v3h-1zM347 306h1v3h-1zM235 307h1v3h-1zM243 307h1v3h-1zM291 307h1v3h-1zM259 308h1v3h-1zM355 308h1v3h-1zM363 308h1v3h-1zM371 308h1v3h-1zM379 308h1v3h-1zM419 308h1v3h-1zM251 309h1v3h-1zM323 309h1v3h-1zM403 309h1v3h-1zM411 309h1v3h-1zM267 310h1v3h-1zM315 310h1v3h-1zM427 310h1v3h-1zM299 311h1v3h-1zM307 311h1v3h-1zM387 311h1v3h-1zM395 311h1v3h-1zM275 312h1v3h-1zM283 312h1v3h-1zM331 312h1v3h-1zM339 312h1v3h-1zM347 312h1v3h-1zM235 313h1v3h-1zM243 313h1v3h-1zM291 313h1v3h-1zM227 314h1v2h-1zM259 314h1v2h-1zM355 314h1v2h-1zM363 314h1v2h-1zM371 314h1v2h-1zM379 314h1v2h-1zM419 314h1v2h-1zM211 315h1v1h-1zM219 315h1v1h-1zM251 315h1v1h-1zM323 315h1v1h-1zM403 315h1v1h-1zM411 315h1v1h-1z" fill="#F4A460"/>
<path d="M171 35h1v1h-1zM203 35h1v2h-1zM171 36h2v1h-2zM170 37h1v3h-1zM172 37h1v1h-1zM203 37h2v1h-2zM155 38h1v2h-1zM173 38h1v2h-1zM202 38h1v4h-1zM204 38h1v2h-1zM155 40h2v1h-2zM169 40h1v2h-1zM174 40h1v1h-1zM205 40h1v4h-1zM154 41h1v5h-1zM156 41h1v1h-1zM175 41h1v2h-1zM491 41h1v1h-1zM157 42h1v2h-1zM168 42h1v3h-1zM201 42h1v4h-1zM491 42h2v1h-2zM176 43h1v1h-1zM491 43h1v1h-1zM493 43h1v1h-1zM158 44h1v3h-1zM177 44h1v2h-1zM206 44h1v3h-1zM490 44h1v5h-1zM494 44h2v1h-2zM167 45h1v3h-1zM496 45h1v1h-1zM153 46h1v5h-1zM178 46h1v2h-1zM200 46h1v4h-1zM497 46h1v1h-1zM159 47h1v2h-1zM207 47h1v3h-1zM498 47h1v1h-1zM166 48h1v3h-1zM179 48h1v3h-1zM475 48h1v3h-1zM160 49h1v3h-1zM489 49h1v6h-1zM199 50h1v5h-1zM208 50h1v3h-1zM152 51h1v5h-1zM165 51h1v2h-1zM180 51h1v5h-1zM474 51h1v6h-1zM476 51h1v4h-1zM161 52h1v2h-1zM164 53h1v3h-1zM209 53h1v4h-1zM162 54h1v2h-1zM198 55h1v4h-1zM477 55h1v4h-1zM488 55h1v5h-1zM151 56h1v4h-1zM163 56h1v2h-1zM181 56h1v5h-1zM210 57h1v3h-1zM473 57h1v6h-1zM197 59h1v4h-1zM478 59h1v5h-1zM150 60h1v5h-1zM211 60h1v4h-1zM487 60h1v5h-1zM182 61h1v5h-1zM196 63h1v4h-1zM472 63h1v6h-1zM212 64h1v5h-1zM479 64h1v4h-1zM149 65h1v5h-1zM486 65h1v5h-1zM183 66h1v4h-1zM195 67h1v4h-1zM99 68h1v1h-1zM480 68h1v5h-1zM98 69h2v1h-2zM213 69h1v6h-1zM471 69h1v5h-1zM97 70h1v2h-1zM100 70h1v3h-1zM148 70h1v5h-1zM184 70h1v5h-1zM485 70h1v6h-1zM194 71h1v2h-1zM96 72h1v1h-1zM95 73h1v1h-1zM101 73h1v3h-1zM193 73h1v2h-1zM481 73h1v4h-1zM94 74h1v1h-1zM470 74h1v6h-1zM93 75h1v2h-1zM147 75h1v3h-1zM185 75h1v5h-1zM192 75h1v2h-1zM214 75h1v5h-1zM102 76h1v3h-1zM484 76h1v5h-1zM92 77h1v1h-1zM191 77h1v3h-1zM482 77h1v4h-1zM91 78h1v2h-1zM146 78h1v2h-1zM103 79h1v3h-1zM90 80h1v3h-1zM145 80h1v2h-1zM186 80h1v5h-1zM190 80h1v2h-1zM215 80h1v5h-1zM469 80h1v6h-1zM483 81h1v3h-1zM104 82h1v3h-1zM144 82h1v2h-1zM189 82h1v2h-1zM89 83h1v2h-1zM143 84h1v2h-1zM188 84h1v1h-1zM88 85h1v3h-1zM105 85h1v3h-1zM187 85h2v1h-2zM216 85h1v5h-1zM115 86h1v1h-1zM142 86h1v2h-1zM187 86h1v2h-1zM468 86h1v6h-1zM114 87h1v1h-1zM116 87h1v1h-1zM87 88h1v3h-1zM106 88h1v3h-1zM112 88h2v1h-2zM117 88h1v1h-1zM141 88h1v2h-1zM111 89h1v1h-1zM118 89h1v1h-1zM339 89h1v1h-1zM110 90h1v1h-1zM119 90h1v1h-1zM140 90h1v2h-1zM217 90h1v6h-1zM338 90h2v1h-2zM86 91h1v3h-1zM107 91h3v1h-3zM120 91h1v1h-1zM337 91h1v2h-1zM339 91h1v1h-1zM107 92h1v1h-1zM121 92h1v1h-1zM139 92h1v2h-1zM227 92h1v1h-1zM340 92h1v4h-1zM467 92h1v5h-1zM122 93h1v1h-1zM226 93h2v1h-2zM336 93h1v1h-1zM85 94h1v2h-1zM123 94h1v1h-1zM138 94h1v2h-1zM226 94h2v1h-2zM335 94h1v1h-1zM124 95h1v2h-1zM225 95h1v1h-1zM227 95h1v1h-1zM334 95h1v1h-1zM84 96h1v3h-1zM137 96h1v1h-1zM218 96h1v5h-1zM224 96h1v1h-1zM228 96h1v7h-1zM333 96h1v2h-1zM341 96h1v4h-1zM125 97h1v1h-1zM136 97h1v2h-1zM223 97h1v2h-1zM466 97h1v6h-1zM126 98h1v1h-1zM332 98h1v1h-1zM83 99h1v1h-1zM127 99h1v2h-1zM135 99h1v1h-1zM222 99h1v1h-1zM331 99h1v2h-1zM82 100h2v1h-2zM134 100h1v2h-1zM221 100h1v1h-1zM342 100h1v4h-1zM78 101h4v1h-4zM128 101h1v1h-1zM219 101h2v1h-2zM330 101h1v3h-1zM72 102h6v1h-6zM129 102h1v1h-1zM133 102h1v1h-1zM219 102h2v1h-2zM67 103h5v1h-5zM130 103h1v2h-1zM132 103h1v2h-1zM219 103h1v1h-1zM229 103h1v7h-1zM465 103h1v6h-1zM67 104h1v2h-1zM329 104h1v4h-1zM343 104h1v4h-1zM131 105h1v1h-1zM66 106h1v5h-1zM328 108h1v3h-1zM344 108h1v4h-1zM464 109h1v6h-1zM230 110h1v7h-1zM65 111h1v5h-1zM327 111h1v3h-1zM345 112h1v4h-1zM326 114h1v3h-1zM463 115h1v6h-1zM64 116h1v5h-1zM346 116h1v4h-1zM231 117h1v8h-1zM325 117h1v4h-1zM347 120h1v4h-1zM63 121h1v5h-1zM324 121h1v3h-1zM462 121h1v6h-1zM323 124h1v4h-1zM348 124h1v4h-1zM232 125h1v7h-1zM62 126h1v5h-1zM379 126h1v1h-1zM379 127h3v1h-3zM461 127h1v6h-1zM322 128h1v4h-1zM349 128h1v4h-1zM378 128h1v4h-1zM382 128h2v1h-2zM384 129h1v1h-1zM385 130h2v1h-2zM61 131h1v5h-1zM299 131h1v2h-1zM387 131h1v2h-1zM233 132h1v7h-1zM321 132h1v4h-1zM350 132h1v4h-1zM377 132h1v4h-1zM298 133h1v2h-1zM300 133h1v3h-1zM388 133h1v4h-1zM460 133h1v6h-1zM297 135h1v2h-1zM60 136h1v5h-1zM301 136h1v2h-1zM320 136h1v4h-1zM351 136h1v4h-1zM376 136h1v3h-1zM296 137h1v3h-1zM389 137h1v3h-1zM302 138h1v3h-1zM451 138h2v1h-2zM234 139h1v7h-1zM375 139h1v4h-1zM451 139h1v1h-1zM453 139h3v1h-3zM459 139h1v2h-1zM295 140h1v2h-1zM319 140h1v5h-1zM352 140h1v4h-1zM390 140h1v3h-1zM450 140h1v3h-1zM456 140h2v1h-2zM59 141h1v3h-1zM303 141h1v3h-1zM411 141h1v3h-1zM458 141h2v1h-2zM294 142h1v3h-1zM374 143h1v3h-1zM391 143h1v4h-1zM449 143h1v4h-1zM40 144h4v1h-4zM58 144h1v1h-1zM304 144h1v3h-1zM353 144h1v4h-1zM410 144h1v6h-1zM412 144h1v6h-1zM35 145h5v1h-5zM44 145h1v1h-1zM57 145h1v1h-1zM293 145h1v2h-1zM318 145h1v4h-1zM35 146h1v2h-1zM45 146h1v1h-1zM56 146h1v1h-1zM235 146h1v6h-1zM373 146h1v4h-1zM46 147h1v1h-1zM55 147h1v2h-1zM292 147h1v2h-1zM305 147h1v2h-1zM392 147h1v3h-1zM448 147h1v3h-1zM34 148h1v5h-1zM47 148h1v1h-1zM354 148h1v4h-1zM48 149h1v1h-1zM54 149h1v1h-1zM291 149h1v2h-1zM306 149h1v3h-1zM317 149h1v4h-1zM49 150h1v1h-1zM53 150h1v1h-1zM372 150h1v4h-1zM393 150h1v3h-1zM409 150h1v6h-1zM413 150h1v6h-1zM447 150h1v3h-1zM50 151h1v1h-1zM52 151h1v1h-1zM290 151h1v1h-1zM51 152h1v1h-1zM236 152h1v4h-1zM289 152h1v1h-1zM307 152h1v2h-1zM355 152h1v3h-1zM33 153h1v5h-1zM288 153h1v1h-1zM316 153h1v4h-1zM394 153h1v4h-1zM446 153h1v3h-1zM286 154h2v1h-2zM308 154h2v1h-2zM371 154h1v2h-1zM285 155h1v1h-1zM310 155h1v1h-1zM356 155h2v1h-2zM237 156h1v4h-1zM284 156h1v1h-1zM311 156h1v1h-1zM358 156h2v1h-2zM369 156h2v1h-2zM408 156h1v5h-1zM414 156h1v5h-1zM445 156h1v4h-1zM283 157h1v2h-1zM312 157h2v1h-2zM315 157h1v1h-1zM360 157h1v1h-1zM367 157h2v1h-2zM395 157h1v3h-1zM32 158h1v5h-1zM314 158h2v1h-2zM361 158h2v1h-2zM365 158h2v1h-2zM282 159h1v2h-1zM315 159h1v1h-1zM363 159h2v1h-2zM238 160h1v4h-1zM396 160h1v4h-1zM444 160h1v3h-1zM281 161h1v2h-1zM407 161h1v6h-1zM415 161h1v6h-1zM31 163h1v5h-1zM280 163h1v3h-1zM443 163h1v2h-1zM239 164h1v5h-1zM397 164h1v3h-1zM441 165h2v1h-2zM279 166h1v2h-1zM439 166h2v1h-2zM398 167h1v4h-1zM406 167h1v5h-1zM416 167h1v5h-1zM437 167h2v1h-2zM30 168h1v5h-1zM278 168h1v3h-1zM434 168h3v1h-3zM240 169h1v4h-1zM430 169h4v1h-4zM427 170h3v1h-3zM277 171h1v2h-1zM399 171h1v3h-1zM426 171h1v2h-1zM405 172h1v6h-1zM417 172h1v6h-1zM29 173h1v5h-1zM241 173h1v4h-1zM276 173h1v2h-1zM425 173h1v2h-1zM400 174h1v4h-1zM275 175h1v4h-1zM424 175h1v2h-1zM242 177h1v4h-1zM423 177h1v2h-1zM28 178h1v5h-1zM401 178h1v3h-1zM404 178h1v6h-1zM418 178h1v6h-1zM274 179h1v6h-1zM422 179h1v2h-1zM243 181h1v5h-1zM402 181h1v3h-1zM421 181h1v2h-1zM27 183h1v2h-1zM420 183h1v1h-1zM402 184h2v1h-2zM419 184h2v1h-2zM26 185h2v1h-2zM273 185h1v6h-1zM403 185h1v2h-1zM419 185h1v2h-1zM22 186h4v1h-4zM244 186h1v4h-1zM19 187h3v1h-3zM18 188h1v1h-1zM17 189h1v2h-1zM245 190h1v4h-1zM16 191h1v1h-1zM272 191h1v6h-1zM15 192h1v1h-1zM14 193h1v1h-1zM13 194h1v2h-1zM246 194h1v5h-1zM12 196h1v1h-1zM11 197h1v1h-1zM271 197h1v5h-1zM10 198h1v1h-1zM9 199h1v1h-1zM247 199h1v4h-1zM8 200h1v1h-1zM7 201h1v1h-1zM6 202h1v1h-1zM270 202h1v6h-1zM5 203h1v1h-1zM248 203h1v5h-1zM4 204h1v1h-1zM3 205h1v1h-1zM249 208h1v4h-1zM269 208h1v6h-1zM250 212h1v4h-1zM259 212h1v1h-1zM258 213h1v1h-1zM260 213h1v1h-1zM256 214h2v1h-2zM261 214h1v2h-1zM268 214h1v6h-1zM255 215h1v1h-1zM251 216h1v1h-1zM254 216h1v1h-1zM262 216h1v1h-1zM251 217h3v1h-3zM263 217h1v1h-1zM251 218h1v1h-1zM264 218h1v1h-1zM265 219h1v2h-1zM267 220h1v1h-1zM266 221h2v1h-2zM267 222h1v1h-1z" fill="#00FF00"/>
<path d="M634 85h3v1h-3zM640 85h3v1h-3zM628 86h3v1h-3zM624 88h1v1h-1zM645 88h1v2h-1zM622 89h2v1h-2zM646 90h1v1h-1zM618 92h1v1h-1zM617 93h1v1h-1zM616 94h1v1h-1zM649 94h1v2h-1zM650 96h1v1h-1zM612 98h1v1h-1zM610 99h2v1h-2zM653 99h1v1h-1zM654 100h1v1h-1zM605 101h2v1h-2zM655 101h1v1h-1zM600 102h1v1h-1zM604 102h1v1h-1zM594 103h1v1h-1zM598 103h2v1h-2zM592 104h2v1h-2zM659 104h1v2h-1zM586 105h3v1h-3zM580 106h3v1h-3zM660 106h1v1h-1zM576 109h1v1h-1zM575 110h1v2h-1zM661 110h1v3h-1zM571 115h1v1h-1zM570 116h1v2h-1zM663 116h1v3h-1zM568 121h1v1h-1zM567 122h1v2h-1zM664 122h1v1h-1zM665 123h1v2h-1zM565 127h1v1h-1zM564 128h1v2h-1zM666 128h1v2h-1zM667 130h1v1h-1zM670 132h2v1h-2zM561 133h1v1h-1zM672 133h1v1h-1zM560 134h1v1h-1zM676 134h3v1h-3zM682 134h3v1h-3zM688 134h3v1h-3zM559 135h1v1h-1zM694 136h1v1h-1zM695 137h1v1h-1zM696 138h1v1h-1zM556 139h1v1h-1zM555 140h1v1h-1zM554 141h1v1h-1zM700 141h1v1h-1zM701 142h1v1h-1zM550 143h1v1h-1zM702 143h1v1h-1zM548 144h2v1h-2zM544 146h1v1h-1zM706 146h1v1h-1zM542 147h2v1h-2zM707 147h2v1h-2zM758 147h2v1h-2zM536 148h3v1h-3zM712 148h3v1h-3zM754 148h1v1h-1zM530 149h3v1h-3zM752 149h2v1h-2zM526 150h1v1h-1zM746 150h3v1h-3zM524 151h2v1h-2zM717 151h1v1h-1zM718 152h1v1h-1zM741 152h2v1h-2zM520 153h1v1h-1zM719 153h1v1h-1zM740 153h1v1h-1zM519 154h1v1h-1zM518 155h1v1h-1zM736 155h1v1h-1zM734 156h2v1h-2zM512 157h3v1h-3zM722 157h1v1h-1zM506 158h3v1h-3zM723 158h2v1h-2zM728 158h3v1h-3zM501 160h2v1h-2zM500 161h1v1h-1zM498 164h1v1h-1zM497 165h1v2h-1zM495 170h1v1h-1zM494 171h1v2h-1zM492 176h1v1h-1zM491 177h1v2h-1zM486 179h2v1h-2zM485 180h1v1h-1zM482 182h1v2h-1zM481 184h1v1h-1zM480 188h1v2h-1zM479 190h1v1h-1zM478 194h1v1h-1zM477 195h1v2h-1zM475 200h1v2h-1zM474 202h1v1h-1zM470 205h1v1h-1zM468 206h2v1h-2zM462 208h3v1h-3zM458 209h1v1h-1zM456 210h2v1h-2zM451 212h2v1h-2zM451 213h1v1h-1zM449 217h1v1h-1zM448 218h1v2h-1zM446 223h1v2h-1zM445 225h1v1h-1zM443 229h1v2h-1zM442 231h1v1h-1zM438 235h1v1h-1zM437 236h1v1h-1zM436 237h1v1h-1zM432 240h1v1h-1zM431 241h1v1h-1zM430 242h1v1h-1zM425 245h2v1h-2zM424 246h1v1h-1zM418 248h3v1h-3zM412 249h3v1h-3zM410 252h1v1h-1zM409 253h1v2h-1zM407 258h1v2h-1zM406 260h1v1h-1zM404 264h1v2h-1zM403 266h1v1h-1zM398 268h3v1h-3zM298 269h1v1h-1zM386 269h3v1h-3zM392 269h3v1h-3zM296 270h2v1h-2zM332 270h3v1h-3zM338 270h3v1h-3zM344 270h3v1h-3zM291 271h2v1h-2zM302 271h1v1h-1zM328 271h1v1h-1zM350 271h3v1h-3zM381 271h2v1h-2zM290 272h1v1h-1zM303 272h1v1h-1zM326 272h2v1h-2zM356 272h3v1h-3zM362 272h3v1h-3zM368 272h3v1h-3zM374 272h3v1h-3zM380 272h1v1h-1zM304 273h1v1h-1zM320 273h3v1h-3zM314 274h3v1h-3zM308 275h3v1h-3zM287 276h1v2h-1zM286 278h1v1h-1zM283 282h1v1h-1zM282 283h1v1h-1zM281 284h1v1h-1zM276 287h2v1h-2zM275 288h1v1h-1zM271 290h1v1h-1zM269 291h2v1h-2zM265 293h1v1h-1zM263 294h2v1h-2zM257 296h3v1h-3zM251 297h3v1h-3zM247 299h1v1h-1zM245 300h2v1h-2zM240 303h2v1h-2zM239 304h1v1h-1zM235 307h1v1h-1zM234 308h1v1h-1zM233 309h1v1h-1zM229 312h1v1h-1zM228 313h1v1h-1zM227 314h1v1h-1zM210 315h2v1h-2zM215 315h3v1h-3zM221 315h3v1h-3z" fill="#F4A460"/>
<path d="M738 158h3v1h-3zM744 158h3v1h-3zM750 158h3v1h-3zM756 158h3v1h-3zM732 159h3v1h-3zM726 160h3v1h-3zM626 161h1v1h-1zM630 161h3v1h-3zM636 161h3v1h-3zM642 161h3v1h-3zM648 161h3v1h-3zM654 161h3v1h-3zM660 161h3v1h-3zM666 161h3v1h-3zM672 161h3v1h-3zM678 161h3v1h-3zM684 161h3v1h-3zM690 161h3v1h-3zM696 161h3v1h-3zM702 161h3v1h-3zM708 161h3v1h-3zM714 161h3v1h-3zM720 161h3v1h-3zM624 162h2v1h-2zM619 164h2v1h-2zM618 165h1v1h-1zM614 167h1v1h-1zM612 168h2v1h-2zM608 170h1v1h-1zM606 171h2v1h-2zM600 172h3v1h-3zM594 173h3v1h-3zM584 174h1v1h-1zM588 174h3v1h-3zM582 175h2v1h-2zM578 176h1v1h-1zM577 177h1v2h-1zM573 182h1v2h-1zM572 184h1v1h-1zM569 188h1v2h-1zM568 190h1v1h-1zM565 194h1v2h-1zM564 196h1v1h-1zM560 198h2v1h-2zM553 199h3v1h-3zM559 199h1v1h-1zM541 200h3v1h-3zM547 200h3v1h-3zM537 201h1v1h-1zM535 202h2v1h-2zM531 204h1v1h-1zM529 205h2v1h-2zM524 208h2v1h-2zM523 209h1v1h-1zM517 211h3v1h-3zM507 212h1v1h-1zM511 212h3v1h-3zM505 213h2v1h-2zM501 215h1v1h-1zM499 216h2v1h-2zM498 220h1v2h-1zM497 222h1v1h-1zM496 226h1v3h-1zM495 232h1v2h-1zM494 234h1v1h-1zM493 238h1v3h-1zM492 244h1v2h-1zM491 246h1v1h-1zM489 250h1v1h-1zM488 251h1v1h-1zM487 252h1v1h-1zM484 256h1v1h-1zM483 257h1v1h-1zM482 258h1v1h-1zM480 262h1v2h-1zM479 264h1v1h-1zM477 268h1v2h-1zM476 270h1v1h-1zM473 273h1v1h-1zM471 274h2v1h-2zM459 276h3v1h-3zM465 276h3v1h-3zM456 280h1v2h-1zM455 282h1v1h-1zM452 286h1v2h-1zM451 288h1v1h-1zM449 292h1v1h-1zM448 293h1v2h-1zM446 298h1v1h-1zM445 299h1v2h-1zM443 304h1v1h-1zM441 305h2v1h-2zM436 308h2v1h-2zM435 309h1v1h-1zM430 312h2v1h-2zM429 313h1v1h-1zM423 315h3v1h-3z" fill="#D8BFD8"/>
<rect x="3" y="328" width="1" height="9" fill="#C0C0C0"/>
<rect x="11" y="328" width="1" height="9" fill="#C0C0C0"/>
<rect x="19" y="328" width="1" height="9" fill="#C0C0C0"/>
<rect x="27" y="328" width="1" height="9" fill="#C0C0C0"/>
<rect x="35" y="328" width="1" height="9" fill="#C0C0C0"/>
<rect x="43" y="328" width="1" height="9" fill="#C0C0C0"/>
<rect x="51" y="329" width="1" height="8" fill="#C0C0C0"/>
<rect x="59" y="329" width="1" height="8" fill="#C0C0C0"/>
<rect x="67" y="329" width="1" height="8" fill="#C0C0C0"/>
<rect x="75" y="329" width="1" height="8" fill="#C0C0C0"/>
<rect x="83" y="330" width="1" height="7" fill="#C0C0C0"/>
<rect x="91" y="330" width="1" height="7" fill="#C0C0C0"/>
<rect x="99" y="330" width="1" height="7" fill="#C0C0C0"/>
<rect x="107" y="330" width="1" height="7" fill="#C0C0C0"/>
<rect x="115" y="331" width="1" height="6" fill="#C0C0C0"/>
<rect x="123" y="331" width="1" height="6" fill="#C0C0C0"/>
<rect x="131" y="332" width="1" height="5" fill="#C0C0C0"/>
<rect x="139" y="332" width="1" height="5" fill="#C0C0C0"/>
<rect x="147" y="332" width="1" height="5" fill="#C0C0C0"/>
<rect x="155" y="332" width="1" height="5" fill="#C0C0C0"/>
<rect x="163" y="333" width="1" height="4" fill="#C0C0C0"/>
<rect x="171" y="333" width="1" height="4" fill="#C0C0C0"/>
<rect x="179" y="333" width="1" height="4" fill="#C0C0C0"/>
<rect x="187" y="333" width="1" height="4" fill="#C0C0C0"/>
<rect x="195" y="333" width="1" height="4" fill="#C0C0C0"/>
<rect x="203" y="333" width="1" height="4" fill="#C0C0C0"/>
<rect x="211" y="332" width="1" height="5" fill="#C0C0C0"/>
<rect x="219" y="331" width="1" height="6" fill="#C0C0C0"/>
<rect x="227" y="330" width="1" height="7" fill="#C0C0C0"/>
<rect x="235" y="329" width="1" height="8" fill="#C0C0C0"/>
<rect x="243" y="328" width="1" height="9" fill="#C0C0C0"/>
<rect x="251" y="327" width="1" height="10" fill="#C0C0C0"/>
<rect x="259" y="327" width="1" height="10" fill="#C0C0C0"/>
<rect x="267" y="326" width="1" height="11" fill="#C0C0C0"/>
<rect x="275" y="325" width="1" height="12" fill="#C0C0C0"/>
<rect x="283" y="324" width="1" height="13" fill="#C0C0C0"/>
<rect x="291" y="323" width="1" height="14" fill="#C0C0C0"/>
<rect x="299" y="322" width="1" height="15" fill="#C0C0C0"/>
<rect x="307" y="322" width="1" height="15" fill="#C0C0C0"/>
<rect x="315" y="323" width="1" height="14" fill="#C0C0C0"/>
<rect x="323" y="323" width="1" height="14" fill="#C0C0C0"/>
<rect x="331" y="323" width="1" height="14" fill="#C0C0C0"/>
<rect x="339" y="323" width="1" height="14" fill="#C0C0C0"/>
<rect x="347" y="324" width="1" height="13" fill="#C0C0C0"/>
<rect x="355" y="324" width="1" height="13" fill="#C0C0C0"/>
<rect x="363" y="323" width="1" height="14" fill="#C0C0C0"/>
<rect x="371" y="323" width="1" height="14" fill="#C0C0C0"/>
<rect x="379" y="324" width="1" height="13" fill="#C0C0C0"/>
<rect x="387" y="324" width="1" height="13" fill="#C0C0C0"/>
<rect x="395" y="325" width="1" height="12" fill="#C0C0C0"/>
<rect x="403" y="325" width="1" height="12" fill="#C0C0C0"/>
<rect x="411" y="326" width="1" height="11" fill="#C0C0C0"/>
<rect x="419" y="327" width="1" height="10" fill="#C0C0C0"/>
<rect x="427" y="328" width="1" height="9" fill="#C0C0C0"/>
<rect x="435" y="329" width="1" height="8" fill="#C0C0C0"/>
<rect x="443" y="331" width="1" height="6" fill="#C0C0C0"/>
<rect x="451" y="334" width="1" height="3" fill="#C0C0C0"/>
<rect x="459" y="336" width="1" height="1" fill="#C0C0C0"/>
<rect x="467" y="336" width="1" height="3" fill="#C0C0C0"/>
<rect x="475" y="336" width="1" height="5" fill="#C0C0C0"/>
<rect x="483" y="336" width="1" height="5" fill="#C0C0C0"/>
<rect x="491" y="336" width="1" height="5" fill="#C0C0C0"/>
<rect x="499" y="336" width="1" height="5" fill="#C0C0C0"/>
<rect x="507" y="336" width="1" height="3" fill="#C0C0C0"/>
<rect x="515" y="336" width="1" height="3" fill="#C0C0C0"/>
<rect x="523" y="336" width="1" height="4" fill="#C0C0C0"/>
<rect x="531" y="336" width="1" height="2" fill="#C0C0C0"/>
<rect x="539" y="336" width="1" height="2" fill="#C0C0C0"/>
<rect x="547" y="336" width="1" height="1" fill="#C0C0C0"/>
<rect x="555" y="336" width="1" height="1" fill="#C0C0C0"/>
<rect x="563" y="336" width="1" height="1" fill="#C0C0C0"/>
<rect x="571" y="336" width="1" height="1" fill="#C0C0C0"/>
<rect x="579" y="336" width="1" height="1" fill="#C0C0C0"/>
<rect x="587" y="336" width="1" height="1" fill="#C0C0C0"/>
<rect x="595" y="336" width="1" height="1" fill="#C0C0C0"/>
<rect x="603" y="336" width="1" height="1" fill="#C0C0C0"/>
<rect x="611" y="336" width="1" height="1" fill="#C0C0C0"/>
<rect x="619" y="336" width="1" height="1" fill="#C0C0C0"/>
<rect x="627" y="336" width="1" height="2" fill="#C0C0C0"/>
<rect x="635" y="336" width="1" height="2" fill="#C0C0C0"/>
<rect x="643" y="336" width="1" height="2" fill="#C0C0C0"/>
<rect x="651" y="336" width="1" height="2" fill="#C0C0C0"/>
<rect x="659" y="336" width="1" height="3" fill="#C0C0C0"/>
<rect x="667" y="336" width="1" height="2" fill="#C0C0C0"/>
<rect x="675" y="336" width="1" height="1" fill="#C0C0C0"/>
<rect x="683" y="335" width="1" height="2" fill="#C0C0C0"/>
<rect x="691" y="334" width="1" height="3" fill="#C0C0C0"/>
<rect x="699" y="332" width="1" height="5" fill="#C0C0C0"/>
<rect x="707" y="331" width="1" height="6" fill="#C0C0C0"/>
<path d="M317 322h1v1h-1zM321 322h3v1h-3zM327 322h3v1h-3zM333 322h3v1h-3zM339 322h3v1h-3zM345 322h3v1h-3zM351 322h3v1h-3zM357 322h3v1h-3zM363 322h3v1h-3zM369 322h3v1h-3zM375 322h3v1h-3zM381 322h3v1h-3zM387 322h3v1h-3zM393 322h3v1h-3zM399 322h3v1h-3zM310 323h2v1h-2zM315 323h2v1h-2zM405 323h3v1h-3zM411 323h3v1h-3zM417 323h3v1h-3zM423 323h2v1h-2zM3 324h3v1h-3zM304 324h2v1h-2zM309 324h1v1h-1zM425 324h1v1h-1zM429 324h3v1h-3zM435 324h1v1h-1zM9 325h3v1h-3zM15 325h1v1h-1zM293 325h1v1h-1zM297 325h3v1h-3zM303 325h1v1h-1zM436 325h2v1h-2zM441 325h3v1h-3zM447 325h2v1h-2zM16 326h2v1h-2zM21 326h3v1h-3zM27 326h3v1h-3zM33 326h3v1h-3zM39 326h3v1h-3zM45 326h3v1h-3zM51 326h3v1h-3zM57 326h3v1h-3zM63 326h3v1h-3zM69 326h3v1h-3zM75 326h3v1h-3zM81 326h3v1h-3zM87 326h3v1h-3zM93 326h3v1h-3zM99 326h3v1h-3zM281 326h1v1h-1zM285 326h3v1h-3zM291 326h2v1h-2zM449 326h1v1h-1zM453 326h2v1h-2zM105 327h3v1h-3zM111 327h3v1h-3zM273 327h3v1h-3zM279 327h2v1h-2zM455 327h1v1h-1zM117 328h3v1h-3zM267 328h3v1h-3zM459 328h3v1h-3zM123 329h3v1h-3zM129 329h3v1h-3zM135 329h3v1h-3zM251 329h1v1h-1zM255 329h3v1h-3zM261 329h3v1h-3zM465 329h2v1h-2zM141 330h3v1h-3zM147 330h3v1h-3zM153 330h2v1h-2zM237 330h3v1h-3zM243 330h3v1h-3zM249 330h2v1h-2zM467 330h1v1h-1zM155 331h1v1h-1zM159 331h3v1h-3zM165 331h3v1h-3zM221 331h1v1h-1zM225 331h3v1h-3zM231 331h3v1h-3zM471 331h3v1h-3zM171 332h3v1h-3zM177 332h3v1h-3zM183 332h3v1h-3zM189 332h3v1h-3zM195 332h3v1h-3zM201 332h3v1h-3zM207 332h3v1h-3zM213 332h3v1h-3zM219 332h2v1h-2zM477 332h3v1h-3zM483 333h3v1h-3zM489 335h3v1h-3zM495 335h1v1h-1zM496 336h2v1h-2zM501 336h2v1h-2zM705 336h3v1h-3zM503 337h1v1h-1zM585 337h3v1h-3zM591 337h3v1h-3zM597 337h3v1h-3zM603 337h3v1h-3zM609 337h3v1h-3zM615 337h3v1h-3zM621 337h3v1h-3zM693 337h3v1h-3zM699 337h3v1h-3zM507 338h3v1h-3zM573 338h3v1h-3zM579 338h3v1h-3zM627 338h3v1h-3zM633 338h3v1h-3zM639 338h3v1h-3zM681 338h3v1h-3zM687 338h3v1h-3zM513 339h3v1h-3zM551 339h1v1h-1zM555 339h3v1h-3zM561 339h3v1h-3zM567 339h3v1h-3zM645 339h3v1h-3zM651 339h3v1h-3zM657 339h3v1h-3zM663 339h3v1h-3zM669 339h3v1h-3zM675 339h3v1h-3zM519 340h3v1h-3zM525 340h3v1h-3zM531 340h3v1h-3zM537 340h3v1h-3zM543 340h3v1h-3zM549 340h2v1h-2z" fill="#FF0000"/>
<path d="M4 350h3v1h-3zM10 350h3v1h-3zM16 350h3v1h-3zM22 350h3v1h-3zM28 350h3v1h-3zM34 350h3v1h-3zM40 350h3v1h-3zM46 350h3v1h-3zM52 350h3v1h-3zM58 350h3v1h-3zM64 350h3v1h-3zM70 350h3v1h-3zM76 350h3v1h-3zM82 350h3v1h-3zM88 350h3v1h-3zM94 350h3v1h-3zM100 350h3v1h-3zM106 350h3v1h-3zM112 350h3v1h-3zM118 350h3v1h-3zM124 350h3v1h-3zM130 350h3v1h-3zM136 350h3v1h-3zM142 350h3v1h-3zM148 350h3v1h-3zM154 350h3v1h-3zM160 350h3v1h-3zM166 350h3v1h-3zM172 350h3v1h-3zM178 350h3v1h-3zM184 350h3v1h-3zM190 350h3v1h-3zM196 350h3v1h-3zM202 350h3v1h-3zM208 350h3v1h-3zM214 350h3v1h-3zM220 350h3v1h-3zM226 350h3v1h-3zM232 350h3v1h-3zM238 350h3v1h-3zM244 350h3v1h-3zM250 350h3v1h-3zM256 350h3v1h-3zM262 350h3v1h-3zM268 350h3v1h-3zM274 350h3v1h-3zM280 350h3v1h-3zM286 350h3v1h-3zM292 350h3v1h-3zM298 350h3v1h-3zM304 350h3v1h-3zM310 350h3v1h-3zM316 350h3v1h-3zM322 350h3v1h-3zM328 350h3v1h-3zM334 350h3v1h-3zM340 350h3v1h-3zM346 350h3v1h-3zM352 350h3v1h-3zM358 350h3v1h-3zM364 350h3v1h-3zM370 350h3v1h-3zM376 350h3v1h-3zM382 350h3v1h-3zM388 350h3v1h-3zM394 350h3v1h-3zM400 350h3v1h-3zM406 350h3v1h-3zM412 350h3v1h-3zM418 350h3v1h-3zM424 350h3v1h-3zM430 350h3v1h-3zM436 350h3v1h-3zM442 350h3v1h-3zM448 350h3v1h-3zM454 350h3v1h-3zM460 350h3v1h-3zM466 350h3v1h-3zM472 350h3v1h-3zM478 350h3v1h-3zM484 350h3v1h-3zM490 350h3v1h-3zM496 350h3v1h-3zM502 350h3v1h-3zM508 350h3v1h-3zM514 350h3v1h-3zM520 350h3v1h-3zM526 350h3v1h-3zM532 350h3v1h-3zM538 350h3v1h-3zM544 350h3v1h-3zM550 350h3v1h-3zM556 350h3v1h-3zM562 350h3v1h-3zM568 350h3v1h-3zM574 350h3v1h-3zM580 350h3v1h-3zM586 350h3v1h-3zM592 350h3v1h-3zM598 350h3v1h-3zM604 350h3v1h-3zM610 350h3v1h-3zM616 350h3v1h-3zM622 350h3v1h-3zM628 350h3v1h-3zM634 350h3v1h-3zM640 350h3v1h-3zM646 350h3v1h-3zM652 350h3v1h-3zM658 350h3v1h-3zM664 350h3v1h-3zM670 350h3v1h-3zM676 350h3v1h-3zM682 350h3v1h-3zM688 350h3v1h-3zM694 350h3v1h-3zM700 350h3v1h-3zM706 350h3v1h-3zM712 350h3v1h-3zM718 350h3v1h-3zM724 350h3v1h-3zM730 350h3v1h-3zM736 350h3v1h-3zM742 350h3v1h-3zM748 350h3v1h-3zM754 350h3v1h-3zM4 356h3v1h-3zM10 356h3v1h-3zM16 356h3v1h-3zM22 356h3v1h-3zM28 356h3v1h-3zM34 356h3v1h-3zM40 356h3v1h-3zM46 356h3v1h-3zM52 356h3v1h-3zM58 356h3v1h-3zM64 356h3v1h-3zM70 356h3v1h-3zM76 356h3v1h-3zM82 356h3v1h-3zM88 356h3v1h-3zM94 356h3v1h-3zM100 356h3v1h-3zM106 356h3v1h-3zM112 356h3v1h-3zM118 356h3v1h-3zM124 356h3v1h-3zM130 356h3v1h-3zM136 356h3v1h-3zM142 356h3v1h-3zM148 356h3v1h-3zM154 356h3v1h-3zM160 356h3v1h-3zM166 356h3v1h-3zM172 356h3v1h-3zM178 356h3v1h-3zM184 356h3v1h-3zM190 356h3v1h-3zM196 356h3v1h-3zM202 356h3v1h-3zM208 356h3v1h-3zM214 356h3v1h-3zM220 356h3v1h-3zM226 356h3v1h-3zM232 356h3v1h-3zM238 356h3v1h-3zM244 356h3v1h-3zM250 356h3v1h-3zM256 356h3v1h-3zM262 356h3v1h-3zM268 356h3v1h-3zM274 356h3v1h-3zM280 356h3v1h-3zM286 356h3v1h-3zM292 356h3v1h-3zM298 356h3v1h-3zM304 356h3v1h-3zM310 356h3v1h-3zM316 356h3v1h-3zM322 356h3v1h-3zM328 356h3v1h-3zM334 356h3v1h-3zM340 356h3v1h-3zM346 356h3v1h-3zM352 356h3v1h-3zM358 356h3v1h-3zM364 356h3v1h-3zM370 356h3v1h-3zM376 356h3v1h-3zM382 356h3v1h-3zM388 356h3v1h-3zM394 356h3v1h-3zM400 356h3v1h-3zM406 356h3v1h-3zM412 356h3v1h-3zM418 356h3v1h-3zM424 356h3v1h-3zM430 356h3v1h-3zM436 356h3v1h-3zM442 356h3v1h-3zM448 356h3v1h-3zM454 356h3v1h-3zM460 356h3v1h-3zM466 356h3v1h-3zM472 356h3v1h-3zM478 356h3v1h-3zM484 356h3v1h-3zM490 356h3v1h-3zM496 356h3v1h-3zM502 356h3v1h-3zM508 356h3v1h-3zM514 356h3v1h-3zM520 356h3v1h-3zM526 356h3v1h-3zM532 356h3v1h-3zM538 356h3v1h-3zM544 356h3v1h-3zM550 356h3v1h-3zM556 356h3v1h-3zM562 356h3v1h-3zM568 356h3v1h-3zM574 356h3v1h-3zM580 356h3v1h-3zM586 356h3v1h-3zM592 356h3v1h-3zM598 356h3v1h-3zM604 356h3v1h-3zM610 356h3v1h-3zM616 356h3v1h-3zM622 356h3v1h-3zM628 356h3v1h-3zM634 356h3v1h-3zM640 356h3v1h-3zM646 356h3v1h-3zM652 356h3v1h-3zM658 356h3v1h-3zM664 356h3v1h-3zM670 356h3v1h-3zM676 356h3v1h-3zM682 356h3v1h-3zM688 356h3v1h-3zM694 356h3v1h-3zM700 356h3v1h-3zM706 356h3v1h-3zM712 356h3v1h-3zM718 356h3v1h-3zM724 356h3v1h-3zM730 356h3v1h-3zM736 356h3v1h-3zM742 356h3v1h-3zM748 356h3v1h-3zM754 356h3v1h-3zM4 362h3v1h-3zM10 362h3v1h-3zM16 362h3v1h-3zM22 362h3v1h-3zM28 362h3v1h-3zM34 362h3v1h-3zM40 362h3v1h-3zM46 362h3v1h-3zM52 362h3v1h-3zM58 362h3v1h-3zM64 362h3v1h-3zM70 362h3v1h-3zM76 362h3v1h-3zM82 362h3v1h-3zM88 362h3v1h-3zM94 362h3v1h-3zM100 362h3v1h-3zM106 362h3v1h-3zM112 362h3v1h-3zM118 362h3v1h-3zM124 362h3v1h-3zM130 362h3v1h-3zM136 362h3v1h-3zM142 362h3v1h-3zM148 362h3v1h-3zM154 362h3v1h-3zM160 362h3v1h-3zM166 362h3v1h-3zM172 362h3v1h-3zM178 362h3v1h-3zM184 362h3v1h-3zM190 362h3v1h-3zM196 362h3v1h-3zM202 362h3v1h-3zM208 362h3v1h-3zM214 362h3v1h-3zM220 362h3v1h-3zM226 362h3v1h-3zM232 362h3v1h-3zM238 362h3v1h-3zM244 362h3v1h-3zM250 362h3v1h-3zM256 362h3v1h-3zM262 362h3v1h-3zM268 362h3v1h-3zM274 362h3v1h-3zM280 362h3v1h-3zM286 362h3v1h-3zM292 362h3v1h-3zM298 362h3v1h-3zM304 362h3v1h-3zM310 362h3v1h-3zM316 362h3v1h-3zM322 362h3v1h-3zM328 362h3v1h-3zM334 362h3v1h-3zM340 362h3v1h-3zM346 362h3v1h-3zM352 362h3v1h-3zM358 362h3v1h-3zM364 362h3v1h-3zM370 362h3v1h-3zM376 362h3v1h-3zM382 362h3v1h-3zM388 362h3v1h-3zM394 362h3v1h-3zM400 362h3v1h-3zM406 362h3v1h-3zM412 362h3v1h-3zM418 362h3v1h-3zM424 362h3v1h-3zM430 362h3v1h-3zM436 362h3v1h-3zM442 362h3v1h-3zM448 362h3v1h-3zM454 362h3v1h-3zM460 362h3v1h-3zM466 362h3v1h-3zM472 362h3v1h-3zM478 362h3v1h-3zM484 362h3v1h-3zM490 362h3v1h-3zM496 362h3v1h-3zM502 362h3v1h-3zM508 362h3v1h-3zM514 362h3v1h-3zM520 362h3v1h-3zM526 362h3v1h-3zM532 362h3v1h-3zM538 362h3v1h-3zM544 362h3v1h-3zM550 362h3v1h-3zM556 362h3v1h-3zM562 362h3v1h-3zM568 362h3v1h-3zM574 362h3v1h-3zM580 362h3v1h-3zM586 362h3v1h-3zM592 362h3v1h-3zM598 362h3v1h-3zM604 362h3v1h-3zM610 362h3v1h-3zM616 362h3v1h-3zM622 362h3v1h-3zM628 362h3v1h-3zM634 362h3v1h-3zM640 362h3v1h-3zM646 362h3v1h-3zM652 362h3v1h-3zM658 362h3v1h-3zM664 362h3v1h-3zM670 362h3v1h-3zM676 362h3v1h-3zM682 362h3v1h-3zM688 362h3v1h-3zM694 362h3v1h-3zM700 362h3v1h-3zM706 362h3v1h-3zM712 362h3v1h-3zM718 362h3v1h-3zM724 362h3v1h-3zM730 362h3v1h-3zM736 362h3v1h-3zM742 362h3v1h-3zM748 362h3v1h-3zM754 362h3v1h-3zM4 369h3v1h-3zM10 369h3v1h-3zM16 369h3v1h-3zM22 369h3v1h-3zM28 369h3v1h-3zM34 369h3v1h-3zM40 369h3v1h-3zM46 369h3v1h-3zM52 369h3v1h-3zM58 369h3v1h-3zM64 369h3v1h-3zM70 369h3v1h-3zM76 369h3v1h-3zM82 369h3v1h-3zM88 369h3v1h-3zM94 369h3v1h-3zM100 369h3v1h-3zM106 369h3v1h-3zM112 369h3v1h-3zM118 369h3v1h-3zM124 369h3v1h-3zM130 369h3v1h-3zM136 369h3v1h-3zM142 369h3v1h-3zM148 369h3v1h-3zM154 369h3v1h-3zM160 369h3v1h-3zM166 369h3v1h-3zM172 369h3v1h-3zM178 369h3v1h-3zM184 369h3v1h-3zM190 369h3v1h-3zM196 369h3v1h-3zM202 369h3v1h-3zM208 369h3v1h-3zM214 369h3v1h-3zM220 369h3v1h-3zM226 369h3v1h-3zM232 369h3v1h-3zM238 369h3v1h-3zM244 369h3v1h-3zM250 369h3v1h-3zM256 369h3v1h-3zM262 369h3v1h-3zM268 369h3v1h-3zM274 369h3v1h-3zM280 369h3v1h-3zM286 369h3v1h-3zM292 369h3v1h-3zM298 369h3v1h-3zM304 369h3v1h-3zM310 369h3v1h-3zM316 369h3v1h-3zM322 369h3v1h-3zM328 369h3v1h-3zM334 369h3v1h-3zM340 369h3v1h-3zM346 369h3v1h-3zM352 369h3v1h-3zM358 369h3v1h-3zM364 369h3v1h-3zM370 369h3v1h-3zM376 369h3v1h-3zM382 369h3v1h-3zM388 369h3v1h-3zM394 369h3v1h-3zM400 369h3v1h-3zM406 369h3v1h-3zM412 369h3v1h-3zM418 369h3v1h-3zM424 369h3v1h-3zM430 369h3v1h-3zM436 369h3v1h-3zM442 369h3v1h-3zM448 369h3v1h-3zM454 369h3v1h-3zM460 369h3v1h-3zM466 369h3v1h-3zM472 369h3v1h-3zM478 369h3v1h-3zM484 369h3v1h-3zM490 369h3v1h-3zM496 369h3v1h-3zM502 369h3v1h-3zM508 369h3v1h-3zM514 369h3v1h-3zM520 369h3v1h-3zM526 369h3v1h-3zM532 369h3v1h-3zM538 369h3v1h-3zM544 369h3v1h-3zM550 369h3v1h-3zM556 369h3v1h-3zM562 369h3v1h-3zM568 369h3v1h-3zM574 369h3v1h-3zM580 369h3v1h-3zM586 369h3v1h-3zM592 369h3v1h-3zM598 369h3v1h-3zM604 369h3v1h-3zM610 369h3v1h-3zM616 369h3v1h-3zM622 369h3v1h-3zM628 369h3v1h-3zM634 369h3v1h-3zM640 369h3v1h-3zM646 369h3v1h-3zM652 369h3v1h-3zM658 369h3v1h-3zM664 369h3v1h-3zM670 369h3v1h-3zM676 369h3v1h-3zM682 369h3v1h-3zM688 369h3v1h-3zM694 369h3v1h-3zM700 369h3v1h-3zM706 369h3v1h-3zM712 369h3v1h-3zM718 369h3v1h-3zM724 369h3v1h-3zM730 369h3v1h-3zM736 369h3v1h-3zM742 369h3v1h-3zM748 369h3v1h-3zM754 369h3v1h-3z" fill="#C0C0C0"/>
<rect x="3" y="357" width="9" height="2" fill="#1E90FF"/>
<rect x="12" y="356" width="8" height="2" fill="#1E90FF"/>
<rect x="20" y="355" width="18" height="2" fill="#1E90FF"/>
<rect x="38" y="356" width="4" height="2" fill="#1E90FF"/>
<rect x="42" y="357" width="8" height="2" fill="#1E90FF"/>
<rect x="50" y="358" width="29" height="2" fill="#1E90FF"/>
<rect x="79" y="359" width="13" height="2" fill="#1E90FF"/>
<rect x="92" y="360" width="2" height="2" fill="#1E90FF"/>
<rect x="94" y="361" width="2" height="2" fill="#1E90FF"/>
<rect x="96" y="362" width="11" height="2" fill="#1E90FF"/>
<rect x="107" y="361" width="8" height="2" fill="#1E90FF"/>
<rect x="115" y="360" width="4" height="2" fill="#1E90FF"/>
<rect x="119" y="359" width="8" height="2" fill="#1E90FF"/>
<rect x="127" y="360" width="5" height="2" fill="#1E90FF"/>
<rect x="132" y="361" width="15" height="2" fill="#1E90FF"/>
<rect x="147" y="360" width="25" height="2" fill="#1E90FF"/>
<rect x="172" y="359" width="16" height="2" fill="#1E90FF"/>
<rect x="188" y="358" width="11" height="2" fill="#1E90FF"/>
<rect x="199" y="357" width="5" height="2" fill="#1E90FF"/>
<rect x="204" y="356" width="24" height="2" fill="#1E90FF"/>
<rect x="228" y="355" width="11" height="2" fill="#1E90FF"/>
<rect x="239" y="354" width="5" height="2" fill="#1E90FF"/>
<rect x="244" y="353" width="8" height="2" fill="#1E90FF"/>
<rect x="252" y="354" width="20" height="2" fill="#1E90FF"/>
<rect x="272" y="353" width="5" height="2" fill="#1E90FF"/>
<rect x="277" y="352" width="23" height="2" fill="#1E90FF"/>
<rect x="300" y="351" width="7" height="2" fill="#1E90FF"/>
<rect x="307" y="352" width="3" height="2" fill="#1E90FF"/>
<rect x="310" y="353" width="2" height="2" fill="#1E90FF"/>
<rect x="312" y="354" width="12" height="2" fill="#1E90FF"/>
<rect x="324" y="355" width="7" height="2" fill="#1E90FF"/>
<rect x="331" y="356" width="24" height="2" fill="#1E90FF"/>
<rect x="355" y="355" width="5" height="2" fill="#1E90FF"/>
<rect x="360" y="354" width="7" height="2" fill="#1E90FF"/>
<rect x="367" y="355" width="17" height="2" fill="#1E90FF"/>
<rect x="384" y="356" width="3" height="2" fill="#1E90FF"/>
<rect x="387" y="357" width="4" height="2" fill="#1E90FF"/>
<rect x="391" y="358" width="2" height="2" fill="#1E90FF"/>
<rect x="393" y="359" width="11" height="2" fill="#1E90FF"/>
<rect x="404" y="358" width="12" height="2" fill="#1E90FF"/>
<rect x="416" y="359" width="4" height="2" fill="#1E90FF"/>
<rect x="420" y="360" width="4" height="2" fill="#1E90FF"/>
<rect x="424" y="361" width="12" height="2" fill="#1E90FF"/>
<rect x="436" y="362" width="4" height="2" fill="#1E90FF"/>
<rect x="440" y="363" width="2" height="2" fill="#1E90FF"/>
<rect x="442" y="364" width="2" height="2" fill="#1E90FF"/>
<rect x="444" y="365" width="8" height="2" fill="#1E90FF"/>
<rect x="452" y="366" width="27" height="2" fill="#1E90FF"/>
<rect x="479" y="365" width="5" height="2" fill="#1E90FF"/>
<rect x="484" y="364" width="3" height="2" fill="#1E90FF"/>
<rect x="487" y="363" width="5" height="2" fill="#1E90FF"/>
<rect x="492" y="362" width="23" height="2" fill="#1E90FF"/>
<rect x="515" y="363" width="13" height="2" fill="#1E90FF"/>
<rect x="528" y="362" width="4" height="2" fill="#1E90FF"/>
<rect x="532" y="361" width="4" height="2" fill="#1E90FF"/>
<rect x="536" y="360" width="4" height="2" fill="#1E90FF"/>
<rect x="540" y="359" width="7" height="2" fill="#1E90FF"/>
<rect x="547" y="360" width="5" height="2" fill="#1E90FF"/>
<rect x="552" y="361" width="4" height="2" fill="#1E90FF"/>
<rect x="556" y="362" width="4" height="2" fill="#1E90FF"/>
<rect x="560" y="363" width="24" height="2" fill="#1E90FF"/>
<rect x="584" y="362" width="4" height="2" fill="#1E90FF"/>
<rect x="588" y="361" width="8" height="2" fill="#1E90FF"/>
<rect x="596" y="362" width="3" height="2" fill="#1E90FF"/>
<rect x="599" y="363" width="5" height="2" fill="#1E90FF"/>
<rect x="604" y="364" width="10" height="2" fill="#1E90FF"/>
<rect x="614" y="363" width="3" height="2" fill="#1E90FF"/>
<rect x="617" y="362" width="5" height="2" fill="#1E90FF"/>
<rect x="622" y="363" width="2" height="2" fill="#1E90FF"/>
<rect x="624" y="364" width="12" height="2" fill="#1E90FF"/>
<rect x="636" y="363" width="16" height="2" fill="#1E90FF"/>
<rect x="652" y="362" width="8" height="2" fill="#1E90FF"/>
<rect x="660" y="361" width="11" height="2" fill="#1E90FF"/>
<rect x="671" y="360" width="5" height="2" fill="#1E90FF"/>
<rect x="676" y="359" width="3" height="2" fill="#1E90FF"/>
<rect x="679" y="358" width="8" height="2" fill="#1E90FF"/>
<rect x="687" y="359" width="9" height="2" fill="#1E90FF"/>
<rect x="696" y="358" width="12" height="2" fill="#1E90FF"/>
</g>
<g shape-rendering="crispEdges" fill="#000">
<rect x="2" y="2" width="759" height="1"/>
<rect x="2" y="2" width="1" height="378"/>
<rect x="760" y="2" width="1" height="378"/>
<rect x="2" y="316" width="759" height="1"/>
<rect x="2" y="317" width="759" height="1" fill="#fff"/>
<rect x="2" y="318" width="759" height="1"/>
<rect x="2" y="343" width="759" height="1"/>
<rect x="2" y="344" width="759" height="1" fill="#fff"/>
<rect x="2" y="345" width="759" height="1"/>
<rect x="2" y="379" width="759" height="1"/>
<rect x="761" y="15" width="2" height="1"/>
<rect x="761" y="82" width="2" height="1"/>
<rect x="761" y="115" width="2" height="1"/>
<rect x="761" y="148" width="2" height="1"/>
<rect x="761" y="181" width="2" height="1"/>
<rect x="761" y="214" width="2" height="1"/>
<rect x="761" y="247" width="2" height="1"/>
<rect x="761" y="280" width="2" height="1"/>
<rect x="761" y="313" width="2" height="1"/>
<rect x="761" y="48" width="2" height="1"/>
<rect x="762" y="43" width="31" height="11"/>
<rect x="761" y="320" width="2" height="1"/>
<rect x="761" y="336" width="2" height="1"/>
<rect x="761" y="342" width="2" height="1"/>
<rect x="761" y="347" width="2" height="1"/>
<rect x="761" y="350" width="2" height="1"/>
<rect x="761" y="356" width="2" height="1"/>
<rect x="761" y="362" width="2" height="1"/>
<rect x="761" y="369" width="2" height="1"/>
<rect x="761" y="378" width="2" height="1"/>
<rect x="3" y="380" width="1" height="3"/>
<rect x="67" y="380" width="1" height="3"/>
<rect x="131" y="380" width="1" height="3"/>
<rect x="195" y="380" width="1" height="3"/>
<rect x="259" y="380" width="1" height="3"/>
<rect x="323" y="380" width="1" height="3"/>
<rect x="387" y="380" width="1" height="3"/>
<rect x="451" y="380" width="1" height="3"/>
<rect x="515" y="380" width="1" height="3"/>
<rect x="579" y="380" width="1" height="3"/>
<rect x="643" y="380" width="1" height="3"/>
<rect x="707" y="380" width="1" height="3"/>
<rect x="6" y="9" width="7" height="1"/><rect x="7" y="10" width="5" height="1"/><rect x="8" y="11" width="3" height="1"/><rect x="9" y="12" width="1" height="1"/>
</g>
<g font-family="'Liberation Sans', sans-serif" font-size="10px" fill="#000" stroke="#000" stroke-width="0.08">
<text x="18.5" y="14.7" textLength="59.5" lengthAdjust="spacingAndGlyphs">WTI_Oil,Daily</text>
<text x="7.3" y="331.6" textLength="118.3" lengthAdjust="spacingAndGlyphs">MACD(12,26,9) 0.763 0.107</text>
<text x="7.3" y="358.7" textLength="69" lengthAdjust="spacingAndGlyphs">RSI(14) 61.6775</text>
<text x="2.0" y="392.8" textLength="53.4" lengthAdjust="spacingAndGlyphs">20 Nov 2017</text>
<text x="65.75" y="392.8" textLength="54.15" lengthAdjust="spacingAndGlyphs">30 Nov 2017</text>
<text x="130.0" y="392.8" textLength="51.65" lengthAdjust="spacingAndGlyphs">12 Dec 2017</text>
<text x="193.7" y="392.8" textLength="52.5" lengthAdjust="spacingAndGlyphs">22 Dec 2017</text>
<text x="257.7" y="392.8" textLength="45.199999999999996" lengthAdjust="spacingAndGlyphs">5 Jan 2018</text>
<text x="322.5" y="392.8" textLength="49.15" lengthAdjust="spacingAndGlyphs">17 Jan 2018</text>
<text x="386.25" y="392.8" textLength="49.15" lengthAdjust="spacingAndGlyphs">29 Jan 2018</text>
<text x="450.0" y="392.8" textLength="46.65" lengthAdjust="spacingAndGlyphs">8 Feb 2018</text>
<text x="514.0" y="392.8" textLength="51.9" lengthAdjust="spacingAndGlyphs">20 Feb 2018</text>
<text x="578.25" y="392.8" textLength="46.65" lengthAdjust="spacingAndGlyphs">2 Mar 2018</text>
<text x="642.0" y="392.8" textLength="52.15" lengthAdjust="spacingAndGlyphs">14 Mar 2018</text>
<text x="705.75" y="392.8" textLength="52.8" lengthAdjust="spacingAndGlyphs">26 Mar 2018</text>
<text x="766" y="19.2" textLength="23.5" lengthAdjust="spacingAndGlyphs">66.75</text>
<text x="766" y="86.2" textLength="23.5" lengthAdjust="spacingAndGlyphs">64.25</text>
<text x="766" y="119.2" textLength="23.5" lengthAdjust="spacingAndGlyphs">63.00</text>
<text x="766" y="152.2" textLength="23.5" lengthAdjust="spacingAndGlyphs">61.75</text>
<text x="766" y="185.2" textLength="23.5" lengthAdjust="spacingAndGlyphs">60.50</text>
<text x="766" y="218.2" textLength="23.5" lengthAdjust="spacingAndGlyphs">59.25</text>
<text x="766" y="251.2" textLength="23.5" lengthAdjust="spacingAndGlyphs">58.00</text>
<text x="766" y="284.2" textLength="23.5" lengthAdjust="spacingAndGlyphs">56.75</text>
<text x="766" y="317.2" textLength="23.5" lengthAdjust="spacingAndGlyphs">55.50</text>
<text x="766" y="52.2" textLength="23.5" lengthAdjust="spacingAndGlyphs" fill="#fff" stroke="#fff">65.53</text>
<g stroke="none">
<text x="764.4" y="329.2" textLength="22.5" lengthAdjust="spacingAndGlyphs">1.956</text>
<text x="764.4" y="340" textLength="17.5" lengthAdjust="spacingAndGlyphs">0.00</text>
<text x="764.4" y="340" textLength="26" lengthAdjust="spacingAndGlyphs">0.0697</text>
<text x="763.6" y="353" textLength="10.5" lengthAdjust="spacingAndGlyphs">90</text>
<text x="763.6" y="355.6" textLength="15.8" lengthAdjust="spacingAndGlyphs">100</text>
<text x="763.6" y="360" textLength="10.5" lengthAdjust="spacingAndGlyphs">70</text>
<text x="763.6" y="365.8" textLength="10.5" lengthAdjust="spacingAndGlyphs">50</text>
<text x="763.6" y="373" textLength="10.5" lengthAdjust="spacingAndGlyphs">30</text>
<text x="764.2" y="375.8" textLength="5" lengthAdjust="spacingAndGlyphs">0</text>
</g>
</g>
</svg>
</body></html>
